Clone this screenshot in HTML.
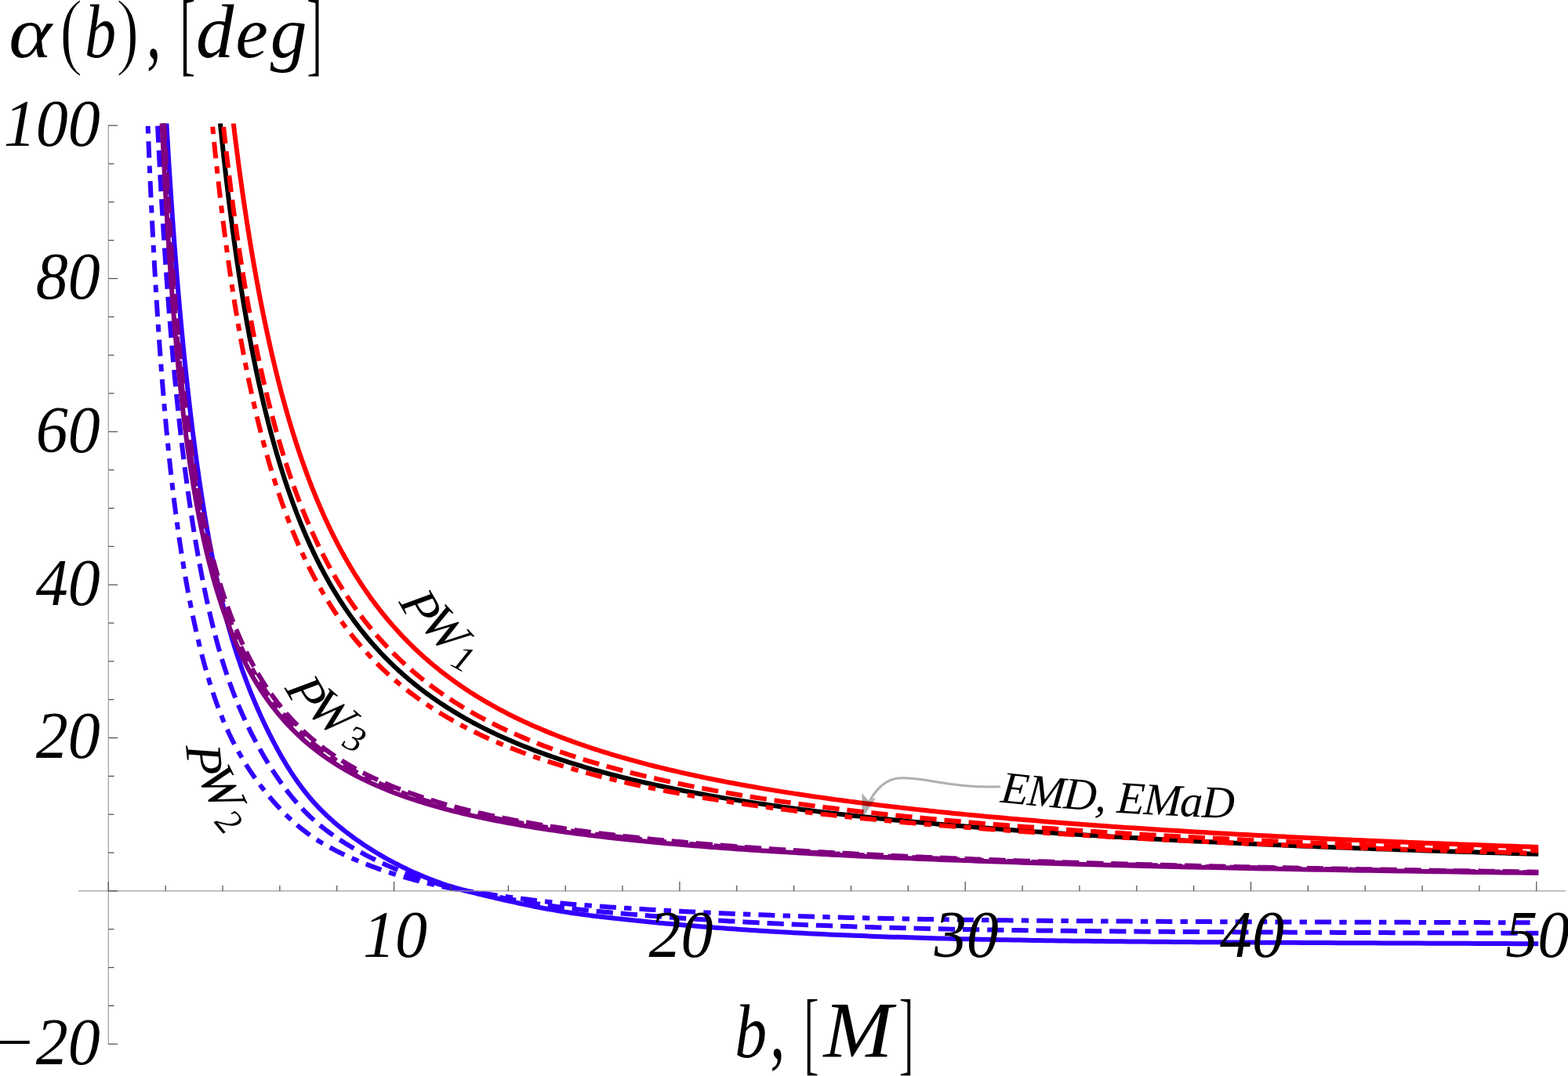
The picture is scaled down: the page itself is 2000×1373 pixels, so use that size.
<!DOCTYPE html>
<html lang="en"><head><meta charset="utf-8"><title>Deflection angle plot</title>
<style>
html,body{margin:0;padding:0;background:#fff;}
body{width:2000px;height:1373px;overflow:hidden;}
svg{display:block;}
text{font-family:"Liberation Serif","DejaVu Serif",serif;font-style:italic;fill:#000;}
.tk{font-size:82px;}
.c{fill:none;stroke-width:6.0px;stroke-linecap:square;stroke-linejoin:round;}
</style></head><body>
<svg xmlns="http://www.w3.org/2000/svg" width="2000" height="1373" viewBox="0 0 2000 1373">
<rect width="2000" height="1373" fill="#fff"/>
<defs><clipPath id="clip"><rect x="100" y="157.6" width="1862.3" height="1180"/></clipPath></defs>

<g clip-path="url(#clip)">
<path class="c" stroke="#000000" d="M281.19 160.10 L282.00 168.01 L282.82 175.84 L283.64 183.60 L284.47 191.29 L285.30 198.91 L286.13 206.45 L286.97 213.93 L287.82 221.34 L288.67 228.68 L289.52 235.95 L290.38 243.15 L291.25 250.29 L292.12 257.37 L292.99 264.37 L293.87 271.32 L294.76 278.20 L295.65 285.01 L296.54 291.77 L297.44 298.46 L298.34 305.10 L299.25 311.67 L300.17 318.18 L301.09 324.63 L302.02 331.03 L302.95 337.37 L303.88 343.65 L304.82 349.87 L305.77 356.04 L306.72 362.15 L307.68 368.20 L308.64 374.20 L309.61 380.15 L310.59 386.05 L311.56 391.89 L312.55 397.68 L313.54 403.42 L314.54 409.11 L315.54 414.74 L316.55 420.33 L317.56 425.86 L318.58 431.35 L319.60 436.79 L320.63 442.18 L321.67 447.52 L322.71 452.82 L323.76 458.07 L324.82 463.27 L325.88 468.43 L326.94 473.54 L328.01 478.61 L329.09 483.63 L330.18 488.61 L331.27 493.54 L332.37 498.44 L333.47 503.29 L334.58 508.09 L335.69 512.86 L336.82 517.58 L337.95 522.26 L339.08 526.91 L340.22 531.51 L341.37 536.07 L342.52 540.59 L343.69 545.08 L344.85 549.52 L346.03 553.93 L347.21 558.30 L348.40 562.63 L349.59 566.92 L350.79 571.18 L352.00 575.40 L353.21 579.59 L354.44 583.74 L355.66 587.85 L356.90 591.93 L358.14 595.97 L359.39 599.98 L360.65 603.96 L361.91 607.90 L363.18 611.81 L364.46 615.69 L365.75 619.53 L367.04 623.34 L368.34 627.12 L369.65 630.87 L370.97 634.58 L372.29 638.27 L373.62 641.92 L374.96 645.54 L376.30 649.13 L377.65 652.70 L379.02 656.23 L380.38 659.73 L381.76 663.21 L383.14 666.65 L384.54 670.07 L385.94 673.46 L387.34 676.82 L388.76 680.15 L390.18 683.46 L391.62 686.73 L393.06 689.98 L394.50 693.21 L395.96 696.41 L397.43 699.58 L398.90 702.72 L400.38 705.84 L401.87 708.94 L403.37 712.00 L404.88 715.05 L406.39 718.07 L407.91 721.06 L409.45 724.03 L410.99 726.98 L412.54 729.90 L414.10 732.80 L415.67 735.67 L417.24 738.52 L418.83 741.35 L420.42 744.16 L422.03 746.94 L423.64 749.70 L425.26 752.44 L426.89 755.16 L428.53 757.85 L430.18 760.52 L431.84 763.18 L433.51 765.81 L435.19 768.42 L436.88 771.00 L438.58 773.57 L440.28 776.12 L442.00 778.65 L443.73 781.16 L445.46 783.64 L447.21 786.11 L448.97 788.56 L450.73 790.99 L452.51 793.40 L454.29 795.79 L456.09 798.16 L457.90 800.51 L459.71 802.85 L461.54 805.17 L463.38 807.47 L465.23 809.75 L467.09 812.01 L468.95 814.25 L470.83 816.48 L472.72 818.69 L474.63 820.88 L476.54 823.06 L478.46 825.22 L480.39 827.36 L482.34 829.49 L484.30 831.60 L486.26 833.69 L488.24 835.77 L490.23 837.83 L492.23 839.87 L494.24 841.90 L496.27 843.92 L498.30 845.92 L500.35 847.90 L502.41 849.87 L504.48 851.82 L506.56 853.76 L508.65 855.68 L510.76 857.59 L512.87 859.48 L515.00 861.36 L517.15 863.23 L519.30 865.08 L521.47 866.92 L523.64 868.74 L525.83 870.55 L528.04 872.34 L530.25 874.13 L532.48 875.90 L534.72 877.65 L536.98 879.39 L539.24 881.12 L541.52 882.84 L543.81 884.54 L546.12 886.23 L548.44 887.91 L550.77 889.58 L553.11 891.23 L555.47 892.87 L557.84 894.50 L560.23 896.12 L562.63 897.72 L565.04 899.31 L567.47 900.89 L569.91 902.46 L572.36 904.02 L574.83 905.57 L577.31 907.10 L579.80 908.63 L582.31 910.14 L584.84 911.64 L587.38 913.13 L589.93 914.61 L592.50 916.08 L595.08 917.53 L597.68 918.98 L600.29 920.42 L602.91 921.84 L605.56 923.26 L608.21 924.66 L610.88 926.06 L613.57 927.44 L616.27 928.82 L618.99 930.18 L621.72 931.54 L624.47 932.88 L627.23 934.22 L630.01 935.54 L632.81 936.86 L635.62 938.17 L638.45 939.47 L641.29 940.75 L644.15 942.03 L647.03 943.30 L649.92 944.56 L652.83 945.81 L655.75 947.06 L658.69 948.29 L661.65 949.52 L664.63 950.73 L667.62 951.94 L670.63 953.14 L673.66 954.33 L676.70 955.51 L679.76 956.69 L682.84 957.85 L685.93 959.01 L689.05 960.16 L692.18 961.30 L695.33 962.43 L698.49 963.56 L701.68 964.67 L704.88 965.78 L708.10 966.89 L711.34 967.98 L714.60 969.07 L717.88 970.14 L721.17 971.21 L724.48 972.28 L727.82 973.33 L731.17 974.38 L734.54 975.42 L737.93 976.46 L741.34 977.49 L744.77 978.51 L748.21 979.52 L751.68 980.52 L755.17 981.52 L758.67 982.52 L762.20 983.50 L765.75 984.48 L769.32 985.45 L772.90 986.42 L776.51 987.37 L780.14 988.33 L783.79 989.27 L787.46 990.21 L791.15 991.14 L794.86 992.07 L798.59 992.99 L802.35 993.90 L806.12 994.81 L809.92 995.71 L813.74 996.60 L817.57 997.49 L821.44 998.38 L825.32 999.25 L829.23 1000.12 L833.15 1000.99 L837.10 1001.85 L841.08 1002.70 L845.07 1003.55 L849.09 1004.39 L853.13 1005.23 L857.19 1006.06 L861.28 1006.88 L865.39 1007.70 L869.53 1008.51 L873.68 1009.32 L877.86 1010.13 L882.07 1010.92 L886.30 1011.72 L890.55 1012.50 L894.82 1013.29 L899.13 1014.06 L903.45 1014.83 L907.80 1015.60 L912.18 1016.36 L916.57 1017.12 L921.00 1017.87 L925.45 1018.61 L929.92 1019.36 L934.42 1020.09 L938.95 1020.82 L943.50 1021.55 L948.08 1022.27 L952.68 1022.99 L957.31 1023.70 L961.97 1024.41 L966.65 1025.11 L971.36 1025.81 L976.10 1026.50 L980.86 1027.19 L985.65 1027.88 L990.47 1028.56 L995.31 1029.23 L1000.18 1029.91 L1005.08 1030.57 L1010.01 1031.24 L1014.97 1031.89 L1019.95 1032.55 L1024.96 1033.20 L1030.00 1033.84 L1035.07 1034.48 L1040.17 1035.12 L1045.30 1035.76 L1050.45 1036.38 L1055.64 1037.01 L1060.85 1037.63 L1066.10 1038.25 L1071.37 1038.86 L1076.68 1039.47 L1082.01 1040.07 L1087.38 1040.68 L1092.77 1041.27 L1098.20 1041.87 L1103.66 1042.46 L1109.15 1043.04 L1114.66 1043.62 L1120.22 1044.20 L1125.80 1044.78 L1131.41 1045.35 L1137.06 1045.92 L1142.73 1046.48 L1148.45 1047.04 L1154.19 1047.60 L1159.96 1048.15 L1165.77 1048.70 L1171.61 1049.25 L1177.49 1049.79 L1183.39 1050.33 L1189.34 1050.86 L1195.31 1051.40 L1201.32 1051.92 L1207.36 1052.45 L1213.44 1052.97 L1219.55 1053.49 L1225.70 1054.01 L1231.88 1054.52 L1238.10 1055.03 L1244.35 1055.54 L1250.64 1056.04 L1256.96 1056.54 L1263.32 1057.04 L1269.72 1057.53 L1276.15 1058.02 L1282.62 1058.51 L1289.12 1058.99 L1295.67 1059.47 L1302.25 1059.95 L1308.86 1060.43 L1315.52 1060.90 L1322.21 1061.37 L1328.94 1061.83 L1335.71 1062.30 L1342.52 1062.76 L1349.36 1063.22 L1356.25 1063.67 L1363.17 1064.12 L1370.14 1064.57 L1377.14 1065.02 L1384.18 1065.46 L1391.26 1065.90 L1398.39 1066.34 L1405.55 1066.78 L1412.76 1067.21 L1420.00 1067.64 L1427.29 1068.07 L1434.62 1068.49 L1441.98 1068.91 L1449.40 1069.33 L1456.85 1069.75 L1464.35 1070.17 L1471.88 1070.58 L1479.47 1070.99 L1487.09 1071.39 L1494.76 1071.80 L1502.47 1072.20 L1510.23 1072.60 L1518.02 1073.00 L1525.87 1073.39 L1533.76 1073.78 L1541.69 1074.17 L1549.67 1074.56 L1557.69 1074.95 L1565.76 1075.33 L1573.88 1075.71 L1582.04 1076.09 L1590.25 1076.46 L1598.50 1076.84 L1606.80 1077.21 L1615.15 1077.58 L1623.54 1077.94 L1631.99 1078.31 L1640.48 1078.67 L1649.02 1079.03 L1657.61 1079.39 L1666.25 1079.74 L1674.93 1080.10 L1683.67 1080.45 L1692.45 1080.80 L1701.29 1081.15 L1710.17 1081.49 L1719.11 1081.83 L1728.10 1082.18 L1737.14 1082.51 L1746.22 1082.85 L1755.37 1083.19 L1764.56 1083.52 L1773.80 1083.85 L1783.10 1084.18 L1792.45 1084.51 L1801.86 1084.83 L1811.31 1085.15 L1820.83 1085.47 L1830.39 1085.79 L1840.01 1086.11 L1849.68 1086.43 L1859.41 1086.74 L1869.20 1087.05 L1879.04 1087.36 L1888.93 1087.67 L1898.89 1087.97 L1908.90 1088.28 L1918.96 1088.58 L1929.08 1088.88 L1939.26 1089.18 L1949.50 1089.48 L1959.80 1089.77"/>
<path class="c" stroke="#ff0000" d="M298.07 160.10 L298.93 167.21 L299.81 174.27 L300.69 181.28 L301.57 188.23 L302.46 195.13 L303.35 201.97 L304.24 208.76 L305.15 215.50 L306.05 222.19 L306.97 228.82 L307.88 235.41 L308.80 241.94 L309.73 248.42 L310.66 254.85 L311.60 261.24 L312.54 267.57 L313.49 273.85 L314.44 280.09 L315.40 286.28 L316.36 292.42 L317.33 298.51 L318.30 304.56 L319.28 310.56 L320.26 316.51 L321.25 322.42 L322.25 328.28 L323.25 334.10 L324.25 339.87 L325.26 345.60 L326.28 351.28 L327.30 356.92 L328.33 362.51 L329.36 368.07 L330.40 373.58 L331.44 379.05 L332.49 384.47 L333.55 389.86 L334.61 395.20 L335.67 400.50 L336.75 405.76 L337.83 410.98 L338.91 416.16 L340.00 421.30 L341.10 426.40 L342.20 431.47 L343.31 436.49 L344.42 441.47 L345.54 446.42 L346.67 451.33 L347.80 456.20 L348.94 461.03 L350.08 465.83 L351.23 470.59 L352.39 475.31 L353.56 480.00 L354.73 484.65 L355.90 489.26 L357.08 493.84 L358.27 498.39 L359.47 502.90 L360.67 507.37 L361.88 511.82 L363.10 516.22 L364.32 520.60 L365.55 524.94 L366.78 529.24 L368.02 533.52 L369.27 537.76 L370.53 541.97 L371.79 546.14 L373.06 550.29 L374.33 554.40 L375.62 558.48 L376.91 562.53 L378.20 566.55 L379.51 570.54 L380.82 574.50 L382.14 578.43 L383.46 582.33 L384.79 586.20 L386.13 590.04 L387.48 593.85 L388.83 597.63 L390.20 601.38 L391.56 605.10 L392.94 608.80 L394.33 612.47 L395.72 616.10 L397.12 619.72 L398.52 623.30 L399.94 626.86 L401.36 630.39 L402.79 633.89 L404.23 637.37 L405.67 640.82 L407.12 644.24 L408.59 647.64 L410.05 651.01 L411.53 654.35 L413.02 657.68 L414.51 660.97 L416.01 664.24 L417.52 667.49 L419.04 670.71 L420.56 673.91 L422.10 677.08 L423.64 680.23 L425.19 683.35 L426.75 686.45 L428.32 689.53 L429.89 692.59 L431.48 695.62 L433.07 698.63 L434.67 701.61 L436.29 704.58 L437.90 707.52 L439.53 710.44 L441.17 713.33 L442.82 716.21 L444.47 719.06 L446.14 721.89 L447.81 724.70 L449.49 727.49 L451.18 730.26 L452.88 733.01 L454.59 735.73 L456.31 738.44 L458.04 741.12 L459.78 743.79 L461.52 746.44 L463.28 749.06 L465.05 751.67 L466.82 754.25 L468.61 756.82 L470.40 759.37 L472.21 761.90 L474.02 764.40 L475.85 766.90 L477.68 769.37 L479.53 771.82 L481.38 774.26 L483.25 776.67 L485.12 779.07 L487.01 781.45 L488.90 783.81 L490.81 786.16 L492.72 788.49 L494.65 790.80 L496.59 793.09 L498.53 795.37 L500.49 797.62 L502.46 799.87 L504.44 802.09 L506.43 804.30 L508.43 806.49 L510.44 808.67 L512.46 810.83 L514.50 812.97 L516.54 815.10 L518.60 817.21 L520.67 819.31 L522.74 821.39 L524.83 823.45 L526.93 825.50 L529.05 827.54 L531.17 829.55 L533.30 831.56 L535.45 833.55 L537.61 835.52 L539.78 837.48 L541.96 839.43 L544.16 841.36 L546.36 843.28 L548.58 845.18 L550.81 847.07 L553.05 848.94 L555.31 850.80 L557.57 852.65 L559.85 854.48 L562.14 856.30 L564.45 858.11 L566.76 859.90 L569.09 861.68 L571.43 863.44 L573.79 865.20 L576.15 866.94 L578.53 868.67 L580.93 870.38 L583.33 872.08 L585.75 873.77 L588.18 875.45 L590.63 877.11 L593.09 878.77 L595.56 880.41 L598.04 882.04 L600.54 883.65 L603.05 885.26 L605.58 886.85 L608.12 888.43 L610.67 890.00 L613.24 891.56 L615.82 893.10 L618.42 894.64 L621.03 896.16 L623.65 897.68 L626.29 899.18 L628.94 900.67 L631.61 902.15 L634.29 903.62 L636.98 905.07 L639.69 906.52 L642.42 907.96 L645.16 909.39 L647.91 910.80 L650.68 912.21 L653.47 913.60 L656.27 914.99 L659.08 916.36 L661.91 917.73 L664.76 919.08 L667.62 920.43 L670.50 921.77 L673.39 923.09 L676.30 924.41 L679.22 925.72 L682.16 927.02 L685.12 928.31 L688.09 929.59 L691.08 930.86 L694.08 932.12 L697.10 933.37 L700.14 934.61 L703.19 935.85 L706.26 937.08 L709.35 938.29 L712.45 939.50 L715.57 940.71 L718.71 941.90 L721.87 943.08 L725.04 944.26 L728.23 945.43 L731.43 946.59 L734.66 947.74 L737.90 948.88 L741.16 950.02 L744.43 951.15 L747.73 952.27 L751.04 953.38 L754.37 954.49 L757.72 955.59 L761.08 956.68 L764.47 957.76 L767.87 958.84 L771.29 959.91 L774.74 960.97 L778.19 962.02 L781.67 963.07 L785.17 964.11 L788.68 965.14 L792.22 966.17 L795.77 967.19 L799.35 968.20 L802.94 969.21 L806.55 970.21 L810.18 971.20 L813.84 972.19 L817.51 973.17 L821.20 974.14 L824.91 975.11 L828.64 976.07 L832.39 977.03 L836.17 977.98 L839.96 978.92 L843.77 979.85 L847.61 980.78 L851.46 981.71 L855.34 982.63 L859.23 983.54 L863.15 984.45 L867.09 985.35 L871.05 986.24 L875.04 987.13 L879.04 988.02 L883.07 988.90 L887.11 989.77 L891.18 990.63 L895.28 991.50 L899.39 992.35 L903.53 993.20 L907.69 994.05 L911.87 994.89 L916.07 995.73 L920.30 996.56 L924.55 997.38 L928.82 998.20 L933.12 999.01 L937.44 999.82 L941.78 1000.63 L946.15 1001.43 L950.54 1002.22 L954.95 1003.01 L959.39 1003.80 L963.85 1004.58 L968.34 1005.35 L972.85 1006.12 L977.39 1006.89 L981.95 1007.65 L986.53 1008.41 L991.14 1009.16 L995.78 1009.91 L1000.44 1010.65 L1005.13 1011.39 L1009.84 1012.12 L1014.57 1012.85 L1019.34 1013.58 L1024.12 1014.30 L1028.94 1015.02 L1033.78 1015.73 L1038.65 1016.44 L1043.54 1017.14 L1048.46 1017.84 L1053.41 1018.54 L1058.38 1019.23 L1063.38 1019.92 L1068.41 1020.60 L1073.46 1021.28 L1078.55 1021.96 L1083.66 1022.63 L1088.79 1023.30 L1093.96 1023.96 L1099.15 1024.62 L1104.38 1025.28 L1109.63 1025.93 L1114.91 1026.58 L1120.21 1027.22 L1125.55 1027.87 L1130.92 1028.50 L1136.31 1029.14 L1141.74 1029.77 L1147.19 1030.39 L1152.67 1031.02 L1158.19 1031.64 L1163.73 1032.25 L1169.30 1032.87 L1174.91 1033.48 L1180.54 1034.08 L1186.20 1034.68 L1191.90 1035.28 L1197.63 1035.88 L1203.38 1036.47 L1209.17 1037.06 L1214.99 1037.64 L1220.84 1038.22 L1226.73 1038.80 L1232.64 1039.38 L1238.59 1039.95 L1244.57 1040.52 L1250.58 1041.08 L1256.63 1041.65 L1262.71 1042.21 L1268.82 1042.76 L1274.96 1043.31 L1281.14 1043.86 L1287.35 1044.41 L1293.60 1044.95 L1299.88 1045.49 L1306.19 1046.03 L1312.54 1046.56 L1318.92 1047.09 L1325.34 1047.62 L1331.79 1048.14 L1338.27 1048.66 L1344.80 1049.18 L1351.35 1049.70 L1357.95 1050.21 L1364.57 1050.72 L1371.24 1051.23 L1377.94 1051.73 L1384.68 1052.23 L1391.45 1052.73 L1398.26 1053.22 L1405.11 1053.71 L1412.00 1054.20 L1418.92 1054.69 L1425.88 1055.17 L1432.88 1055.65 L1439.91 1056.13 L1446.99 1056.60 L1454.10 1057.07 L1461.25 1057.54 L1468.44 1058.01 L1475.67 1058.47 L1482.94 1058.93 L1490.25 1059.39 L1497.59 1059.85 L1504.98 1060.30 L1512.41 1060.75 L1519.88 1061.20 L1527.39 1061.64 L1534.94 1062.08 L1542.53 1062.52 L1550.16 1062.96 L1557.83 1063.40 L1565.55 1063.83 L1573.30 1064.26 L1581.10 1064.68 L1588.95 1065.11 L1596.83 1065.53 L1604.76 1065.95 L1612.73 1066.37 L1620.74 1066.78 L1628.80 1067.19 L1636.90 1067.60 L1645.04 1068.01 L1653.23 1068.41 L1661.47 1068.81 L1669.74 1069.21 L1678.07 1069.61 L1686.44 1070.01 L1694.85 1070.40 L1703.31 1070.79 L1711.82 1071.18 L1720.37 1071.56 L1728.97 1071.94 L1737.61 1072.33 L1746.30 1072.70 L1755.04 1073.08 L1763.83 1073.45 L1772.67 1073.83 L1781.55 1074.20 L1790.48 1074.56 L1799.46 1074.93 L1808.49 1075.29 L1817.57 1075.65 L1826.69 1076.01 L1835.87 1076.37 L1845.09 1076.72 L1854.37 1077.08 L1863.70 1077.43 L1873.08 1077.77 L1882.50 1078.12 L1891.98 1078.46 L1901.51 1078.81 L1911.10 1079.14 L1920.73 1079.48 L1930.42 1079.82 L1940.16 1080.15 L1949.95 1080.48 L1959.80 1080.81"/>
<path class="c" stroke="#ff0000" stroke-dasharray="15.3 15.9" stroke-dashoffset="-4.9" d="M284.97 160.10 L285.79 167.71 L286.62 175.25 L287.46 182.72 L288.30 190.12 L289.14 197.47 L289.99 204.74 L290.84 211.96 L291.70 219.11 L292.56 226.19 L293.43 233.22 L294.31 240.18 L295.18 247.08 L296.07 253.93 L296.95 260.71 L297.85 267.43 L298.74 274.10 L299.65 280.71 L300.55 287.26 L301.47 293.75 L302.39 300.19 L303.31 306.57 L304.24 312.89 L305.17 319.17 L306.11 325.38 L307.05 331.55 L308.00 337.66 L308.96 343.72 L309.92 349.72 L310.88 355.68 L311.85 361.58 L312.83 367.43 L313.81 373.24 L314.80 378.99 L315.79 384.69 L316.79 390.35 L317.80 395.96 L318.81 401.52 L319.82 407.03 L320.84 412.49 L321.87 417.91 L322.90 423.29 L323.94 428.61 L324.99 433.90 L326.04 439.13 L327.09 444.33 L328.16 449.48 L329.22 454.58 L330.30 459.65 L331.38 464.67 L332.47 469.65 L333.56 474.58 L334.66 479.48 L335.76 484.34 L336.87 489.15 L337.99 493.92 L339.11 498.66 L340.24 503.35 L341.38 508.01 L342.52 512.62 L343.67 517.20 L344.83 521.74 L345.99 526.25 L347.16 530.71 L348.33 535.14 L349.51 539.53 L350.70 543.89 L351.90 548.21 L353.10 552.49 L354.31 556.74 L355.52 560.95 L356.75 565.13 L357.97 569.28 L359.21 573.39 L360.45 577.47 L361.70 581.51 L362.96 585.52 L364.22 589.50 L365.50 593.45 L366.77 597.36 L368.06 601.24 L369.35 605.09 L370.65 608.91 L371.96 612.70 L373.27 616.46 L374.60 620.18 L375.93 623.88 L377.26 627.55 L378.61 631.18 L379.96 634.79 L381.32 638.37 L382.69 641.92 L384.06 645.44 L385.44 648.93 L386.84 652.40 L388.23 655.84 L389.64 659.24 L391.05 662.63 L392.48 665.98 L393.91 669.31 L395.34 672.61 L396.79 675.89 L398.25 679.14 L399.71 682.36 L401.18 685.56 L402.66 688.73 L404.15 691.88 L405.64 695.00 L407.15 698.10 L408.66 701.18 L410.18 704.22 L411.71 707.25 L413.25 710.25 L414.79 713.23 L416.35 716.18 L417.91 719.11 L419.49 722.02 L421.07 724.91 L422.66 727.77 L424.26 730.61 L425.87 733.43 L427.49 736.22 L429.11 739.00 L430.75 741.75 L432.40 744.48 L434.05 747.19 L435.72 749.88 L437.39 752.55 L439.07 755.20 L440.76 757.82 L442.47 760.43 L444.18 763.02 L445.90 765.58 L447.63 768.13 L449.37 770.66 L451.12 773.16 L452.88 775.65 L454.65 778.12 L456.43 780.57 L458.22 783.00 L460.02 785.42 L461.83 787.81 L463.65 790.19 L465.48 792.54 L467.32 794.88 L469.17 797.21 L471.03 799.51 L472.91 801.80 L474.79 804.07 L476.68 806.32 L478.59 808.55 L480.50 810.77 L482.43 812.97 L484.36 815.16 L486.31 817.33 L488.27 819.48 L490.24 821.61 L492.22 823.73 L494.21 825.84 L496.21 827.92 L498.23 830.00 L500.25 832.05 L502.29 834.09 L504.34 836.12 L506.39 838.13 L508.47 840.13 L510.55 842.11 L512.64 844.07 L514.75 846.02 L516.87 847.96 L519.00 849.88 L521.14 851.79 L523.29 853.68 L525.46 855.56 L527.64 857.43 L529.83 859.28 L532.03 861.12 L534.25 862.95 L536.47 864.76 L538.72 866.55 L540.97 868.34 L543.23 870.11 L545.51 871.87 L547.80 873.62 L550.11 875.35 L552.42 877.07 L554.75 878.78 L557.10 880.47 L559.45 882.15 L561.82 883.82 L564.21 885.48 L566.60 887.13 L569.01 888.76 L571.44 890.38 L573.87 891.99 L576.32 893.59 L578.79 895.18 L581.27 896.76 L583.76 898.32 L586.27 899.87 L588.79 901.42 L591.32 902.95 L593.87 904.47 L596.43 905.97 L599.01 907.47 L601.60 908.96 L604.21 910.43 L606.83 911.90 L609.47 913.36 L612.12 914.80 L614.79 916.23 L617.47 917.66 L620.16 919.07 L622.87 920.48 L625.60 921.87 L628.34 923.25 L631.10 924.63 L633.87 925.99 L636.66 927.35 L639.46 928.69 L642.28 930.03 L645.12 931.35 L647.97 932.67 L650.84 933.98 L653.72 935.27 L656.62 936.56 L659.54 937.84 L662.47 939.11 L665.42 940.38 L668.39 941.63 L671.37 942.87 L674.37 944.11 L677.39 945.33 L680.42 946.55 L683.47 947.76 L686.54 948.96 L689.62 950.16 L692.72 951.34 L695.84 952.52 L698.98 953.68 L702.13 954.84 L705.31 956.00 L708.50 957.14 L711.71 958.28 L714.93 959.40 L718.18 960.52 L721.44 961.64 L724.72 962.74 L728.02 963.84 L731.34 964.93 L734.67 966.01 L738.03 967.08 L741.40 968.15 L744.80 969.21 L748.21 970.26 L751.64 971.31 L755.09 972.35 L758.56 973.38 L762.05 974.40 L765.56 975.42 L769.09 976.43 L772.64 977.43 L776.21 978.43 L779.80 979.42 L783.41 980.40 L787.04 981.38 L790.69 982.34 L794.36 983.31 L798.05 984.26 L801.76 985.21 L805.50 986.16 L809.25 987.09 L813.03 988.02 L816.82 988.95 L820.64 989.87 L824.48 990.78 L828.34 991.68 L832.22 992.58 L836.13 993.48 L840.05 994.36 L844.00 995.25 L847.97 996.12 L851.96 996.99 L855.98 997.85 L860.02 998.71 L864.08 999.57 L868.16 1000.41 L872.27 1001.25 L876.40 1002.09 L880.55 1002.92 L884.73 1003.74 L888.93 1004.56 L893.15 1005.38 L897.40 1006.18 L901.67 1006.99 L905.97 1007.78 L910.28 1008.58 L914.63 1009.36 L919.00 1010.14 L923.39 1010.92 L927.81 1011.69 L932.25 1012.46 L936.72 1013.22 L941.21 1013.98 L945.73 1014.73 L950.27 1015.47 L954.84 1016.21 L959.43 1016.95 L964.05 1017.68 L968.70 1018.41 L973.37 1019.13 L978.07 1019.85 L982.79 1020.56 L987.55 1021.27 L992.32 1021.97 L997.13 1022.67 L1001.96 1023.37 L1006.82 1024.06 L1011.71 1024.74 L1016.62 1025.42 L1021.56 1026.10 L1026.53 1026.77 L1031.53 1027.44 L1036.56 1028.10 L1041.61 1028.76 L1046.69 1029.41 L1051.80 1030.06 L1056.94 1030.71 L1062.11 1031.35 L1067.31 1031.99 L1072.54 1032.63 L1077.79 1033.25 L1083.08 1033.88 L1088.40 1034.50 L1093.74 1035.12 L1099.12 1035.73 L1104.52 1036.34 L1109.96 1036.95 L1115.43 1037.55 L1120.93 1038.15 L1126.45 1038.74 L1132.01 1039.33 L1137.61 1039.92 L1143.23 1040.50 L1148.88 1041.08 L1154.57 1041.66 L1160.29 1042.23 L1166.04 1042.80 L1171.82 1043.37 L1177.64 1043.93 L1183.48 1044.48 L1189.36 1045.04 L1195.28 1045.59 L1201.22 1046.14 L1207.21 1046.68 L1213.22 1047.22 L1219.27 1047.76 L1225.35 1048.29 L1231.47 1048.82 L1237.62 1049.35 L1243.80 1049.87 L1250.02 1050.39 L1256.28 1050.91 L1262.57 1051.42 L1268.89 1051.93 L1275.26 1052.44 L1281.65 1052.94 L1288.09 1053.44 L1294.55 1053.94 L1301.06 1054.44 L1307.60 1054.93 L1314.18 1055.42 L1320.80 1055.90 L1327.45 1056.38 L1334.14 1056.86 L1340.87 1057.34 L1347.64 1057.81 L1354.44 1058.28 L1361.28 1058.75 L1368.17 1059.21 L1375.09 1059.68 L1382.04 1060.14 L1389.04 1060.59 L1396.08 1061.04 L1403.16 1061.49 L1410.27 1061.94 L1417.43 1062.39 L1424.63 1062.83 L1431.87 1063.27 L1439.14 1063.71 L1446.46 1064.14 L1453.82 1064.57 L1461.23 1065.00 L1468.67 1065.43 L1476.15 1065.85 L1483.68 1066.27 L1491.25 1066.69 L1498.86 1067.10 L1506.52 1067.52 L1514.22 1067.93 L1521.96 1068.34 L1529.74 1068.74 L1537.57 1069.14 L1545.45 1069.55 L1553.36 1069.94 L1561.33 1070.34 L1569.33 1070.73 L1577.38 1071.12 L1585.48 1071.51 L1593.62 1071.90 L1601.81 1072.28 L1610.05 1072.66 L1618.33 1073.04 L1626.66 1073.42 L1635.03 1073.80 L1643.45 1074.17 L1651.92 1074.54 L1660.44 1074.91 L1669.00 1075.27 L1677.61 1075.63 L1686.27 1076.00 L1694.98 1076.36 L1703.74 1076.71 L1712.55 1077.07 L1721.41 1077.42 L1730.32 1077.77 L1739.27 1078.12 L1748.28 1078.46 L1757.34 1078.81 L1766.45 1079.15 L1775.61 1079.49 L1784.82 1079.83 L1794.09 1080.17 L1803.40 1080.50 L1812.77 1080.83 L1822.19 1081.16 L1831.67 1081.49 L1841.20 1081.82 L1850.78 1082.14 L1860.41 1082.46 L1870.10 1082.78 L1879.85 1083.10 L1889.65 1083.42 L1899.50 1083.73 L1909.41 1084.04 L1919.38 1084.36 L1929.40 1084.66 L1939.47 1084.97 L1949.61 1085.28 L1959.80 1085.58"/>
<path class="c" stroke="#ff0000" stroke-dasharray="3.4 16.1 15.0 16.2" stroke-dashoffset="-4.6" d="M271.02 160.10 L271.79 167.99 L272.57 175.80 L273.36 183.55 L274.15 191.22 L274.94 198.82 L275.74 206.35 L276.55 213.82 L277.36 221.21 L278.17 228.54 L278.99 235.81 L279.81 243.00 L280.64 250.14 L281.47 257.20 L282.31 264.21 L283.15 271.15 L284.00 278.02 L284.85 284.84 L285.71 291.59 L286.57 298.29 L287.44 304.92 L288.31 311.49 L289.19 318.01 L290.07 324.47 L290.96 330.86 L291.85 337.21 L292.75 343.49 L293.66 349.72 L294.56 355.89 L295.48 362.01 L296.40 368.08 L297.32 374.09 L298.25 380.04 L299.19 385.95 L300.13 391.80 L301.08 397.60 L302.03 403.35 L302.99 409.05 L303.95 414.69 L304.92 420.29 L305.90 425.84 L306.88 431.34 L307.86 436.79 L308.85 442.20 L309.85 447.55 L310.86 452.86 L311.86 458.13 L312.88 463.35 L313.90 468.52 L314.93 473.64 L315.96 478.73 L317.00 483.77 L318.05 488.76 L319.10 493.71 L320.16 498.62 L321.22 503.48 L322.29 508.31 L323.37 513.09 L324.45 517.83 L325.54 522.53 L326.63 527.19 L327.74 531.81 L328.84 536.39 L329.96 540.93 L331.08 545.43 L332.21 549.89 L333.34 554.32 L334.48 558.70 L335.63 563.05 L336.79 567.37 L337.95 571.64 L339.12 575.88 L340.29 580.08 L341.47 584.25 L342.66 588.38 L343.86 592.48 L345.06 596.54 L346.27 600.57 L347.49 604.56 L348.71 608.52 L349.94 612.45 L351.18 616.34 L352.42 620.20 L353.68 624.03 L354.94 627.83 L356.20 631.59 L357.48 635.32 L358.76 639.03 L360.05 642.70 L361.35 646.34 L362.65 649.95 L363.97 653.52 L365.29 657.07 L366.61 660.59 L367.95 664.08 L369.29 667.55 L370.64 670.98 L372.00 674.38 L373.37 677.76 L374.75 681.11 L376.13 684.43 L377.52 687.72 L378.92 690.99 L380.33 694.23 L381.74 697.44 L383.17 700.63 L384.60 703.79 L386.04 706.92 L387.49 710.03 L388.95 713.11 L390.42 716.17 L391.89 719.20 L393.37 722.21 L394.87 725.20 L396.37 728.16 L397.88 731.09 L399.40 734.00 L400.92 736.89 L402.46 739.75 L404.01 742.60 L405.56 745.41 L407.12 748.21 L408.70 750.98 L410.28 753.73 L411.87 756.46 L413.47 759.17 L415.08 761.85 L416.70 764.51 L418.33 767.16 L419.97 769.78 L421.61 772.38 L423.27 774.95 L424.94 777.51 L426.62 780.05 L428.30 782.57 L430.00 785.06 L431.71 787.54 L433.42 790.00 L435.15 792.44 L436.89 794.86 L438.63 797.26 L440.39 799.64 L442.16 802.00 L443.94 804.34 L445.72 806.67 L447.52 808.97 L449.33 811.26 L451.15 813.53 L452.98 815.78 L454.82 818.02 L456.67 820.23 L458.54 822.43 L460.41 824.62 L462.29 826.78 L464.19 828.93 L466.10 831.06 L468.01 833.18 L469.94 835.27 L471.88 837.36 L473.84 839.42 L475.80 841.47 L477.77 843.51 L479.76 845.52 L481.76 847.53 L483.77 849.51 L485.79 851.49 L487.82 853.44 L489.86 855.38 L491.92 857.31 L493.99 859.22 L496.07 861.12 L498.16 863.00 L500.27 864.87 L502.39 866.72 L504.52 868.56 L506.66 870.39 L508.82 872.20 L510.98 873.99 L513.16 875.78 L515.36 877.55 L517.56 879.31 L519.78 881.05 L522.01 882.78 L524.26 884.50 L526.52 886.20 L528.79 887.89 L531.07 889.57 L533.37 891.23 L535.68 892.89 L538.01 894.53 L540.34 896.15 L542.70 897.77 L545.06 899.37 L547.44 900.97 L549.84 902.55 L552.24 904.11 L554.67 905.67 L557.10 907.21 L559.55 908.75 L562.02 910.27 L564.49 911.78 L566.99 913.28 L569.50 914.76 L572.02 916.24 L574.56 917.70 L577.11 919.16 L579.68 920.60 L582.26 922.04 L584.86 923.46 L587.47 924.87 L590.10 926.27 L592.74 927.66 L595.40 929.04 L598.07 930.41 L600.76 931.77 L603.47 933.13 L606.19 934.47 L608.93 935.80 L611.68 937.12 L614.45 938.43 L617.23 939.73 L620.04 941.02 L622.86 942.31 L625.69 943.58 L628.54 944.84 L631.41 946.10 L634.29 947.34 L637.20 948.58 L640.12 949.81 L643.05 951.03 L646.00 952.24 L648.97 953.44 L651.96 954.63 L654.97 955.81 L657.99 956.99 L661.03 958.16 L664.09 959.31 L667.16 960.46 L670.26 961.61 L673.37 962.74 L676.50 963.86 L679.65 964.98 L682.82 966.09 L686.00 967.19 L689.21 968.29 L692.43 969.37 L695.67 970.45 L698.93 971.52 L702.21 972.58 L705.51 973.64 L708.83 974.68 L712.17 975.72 L715.53 976.76 L718.90 977.78 L722.30 978.80 L725.72 979.81 L729.15 980.82 L732.61 981.81 L736.09 982.80 L739.58 983.78 L743.10 984.76 L746.64 985.73 L750.20 986.69 L753.78 987.65 L757.38 988.59 L761.00 989.54 L764.65 990.47 L768.31 991.40 L772.00 992.32 L775.70 993.24 L779.43 994.15 L783.18 995.05 L786.96 995.95 L790.75 996.84 L794.57 997.72 L798.41 998.60 L802.27 999.47 L806.15 1000.34 L810.06 1001.20 L813.99 1002.05 L817.94 1002.90 L821.92 1003.74 L825.92 1004.58 L829.94 1005.41 L833.99 1006.23 L838.06 1007.05 L842.15 1007.87 L846.27 1008.67 L850.41 1009.48 L854.58 1010.27 L858.77 1011.06 L862.98 1011.85 L867.22 1012.63 L871.49 1013.41 L875.78 1014.18 L880.09 1014.94 L884.43 1015.70 L888.80 1016.46 L893.19 1017.20 L897.61 1017.95 L902.05 1018.69 L906.52 1019.42 L911.01 1020.15 L915.53 1020.87 L920.08 1021.59 L924.65 1022.31 L929.25 1023.02 L933.88 1023.72 L938.53 1024.42 L943.22 1025.12 L947.93 1025.81 L952.66 1026.49 L957.43 1027.18 L962.22 1027.85 L967.04 1028.52 L971.89 1029.19 L976.76 1029.86 L981.67 1030.51 L986.60 1031.17 L991.57 1031.82 L996.56 1032.46 L1001.58 1033.11 L1006.63 1033.74 L1011.71 1034.38 L1016.82 1035.00 L1021.96 1035.63 L1027.13 1036.25 L1032.33 1036.87 L1037.56 1037.48 L1042.82 1038.09 L1048.11 1038.69 L1053.44 1039.29 L1058.79 1039.89 L1064.18 1040.48 L1069.59 1041.07 L1075.04 1041.65 L1080.52 1042.23 L1086.03 1042.81 L1091.58 1043.38 L1097.16 1043.95 L1102.77 1044.51 L1108.41 1045.08 L1114.08 1045.63 L1119.79 1046.19 L1125.53 1046.74 L1131.31 1047.29 L1137.12 1047.83 L1142.96 1048.37 L1148.84 1048.91 L1154.75 1049.44 L1160.70 1049.97 L1166.68 1050.49 L1172.70 1051.02 L1178.75 1051.54 L1184.84 1052.05 L1190.96 1052.56 L1197.12 1053.07 L1203.31 1053.58 L1209.54 1054.08 L1215.81 1054.58 L1222.11 1055.08 L1228.46 1055.57 L1234.83 1056.06 L1241.25 1056.55 L1247.70 1057.03 L1254.19 1057.51 L1260.72 1057.99 L1267.29 1058.46 L1273.89 1058.93 L1280.54 1059.40 L1287.22 1059.87 L1293.94 1060.33 L1300.70 1060.79 L1307.50 1061.25 L1314.34 1061.70 L1321.22 1062.15 L1328.14 1062.60 L1335.10 1063.04 L1342.11 1063.48 L1349.15 1063.92 L1356.23 1064.36 L1363.36 1064.79 L1370.53 1065.22 L1377.73 1065.65 L1384.99 1066.08 L1392.28 1066.50 L1399.62 1066.92 L1407.00 1067.34 L1414.42 1067.75 L1421.88 1068.16 L1429.39 1068.57 L1436.95 1068.98 L1444.54 1069.38 L1452.19 1069.79 L1459.87 1070.19 L1467.60 1070.58 L1475.38 1070.98 L1483.20 1071.37 L1491.07 1071.76 L1498.99 1072.15 L1506.95 1072.53 L1514.95 1072.91 L1523.01 1073.29 L1531.11 1073.67 L1539.26 1074.04 L1547.46 1074.42 L1555.70 1074.79 L1563.99 1075.16 L1572.33 1075.52 L1580.72 1075.88 L1589.16 1076.25 L1597.65 1076.60 L1606.19 1076.96 L1614.78 1077.32 L1623.41 1077.67 L1632.10 1078.02 L1640.84 1078.37 L1649.63 1078.71 L1658.47 1079.06 L1667.37 1079.40 L1676.31 1079.74 L1685.31 1080.08 L1694.36 1080.41 L1703.47 1080.74 L1712.62 1081.07 L1721.83 1081.40 L1731.10 1081.73 L1740.42 1082.06 L1749.79 1082.38 L1759.22 1082.70 L1768.70 1083.02 L1778.24 1083.34 L1787.83 1083.65 L1797.48 1083.97 L1807.19 1084.28 L1816.95 1084.59 L1826.78 1084.90 L1836.65 1085.20 L1846.59 1085.50 L1856.58 1085.81 L1866.64 1086.11 L1876.75 1086.41 L1886.92 1086.70 L1897.15 1087.00 L1907.44 1087.29 L1917.79 1087.58 L1928.20 1087.87 L1938.67 1088.16 L1949.21 1088.45 L1959.80 1088.73"/>
<path class="c" stroke="#3300ff" d="M212.56 160.10 L213.09 169.35 L213.63 178.52 L214.16 187.61 L214.71 196.62 L215.25 205.56 L215.80 214.41 L216.36 223.20 L216.92 231.90 L217.48 240.53 L218.05 249.08 L218.62 257.57 L219.19 265.97 L219.77 274.31 L220.35 282.57 L220.94 290.76 L221.53 298.88 L222.12 306.93 L222.72 314.91 L223.33 322.82 L223.94 330.67 L224.55 338.44 L225.17 346.15 L225.79 353.80 L226.41 361.38 L227.04 368.89 L227.68 376.35 L228.32 383.74 L228.96 391.08 L229.61 398.35 L230.26 405.57 L230.92 412.73 L231.58 419.83 L232.25 426.88 L232.92 433.88 L233.60 440.82 L234.28 447.70 L234.97 454.54 L235.66 461.32 L236.35 468.05 L237.05 474.74 L237.76 481.37 L238.47 487.96 L239.19 494.49 L239.91 500.98 L240.64 507.42 L241.37 513.82 L242.11 520.17 L242.85 526.48 L243.60 532.74 L244.35 538.96 L245.11 545.13 L245.87 551.27 L246.64 557.36 L247.42 563.40 L248.20 569.41 L248.98 575.37 L249.77 581.28 L250.57 587.16 L251.37 592.99 L252.18 598.77 L253.00 604.51 L253.82 610.21 L254.64 615.86 L255.48 621.46 L256.31 627.02 L257.16 632.54 L258.01 638.01 L258.86 643.43 L259.73 648.81 L260.59 654.15 L261.47 659.44 L262.35 664.68 L263.24 669.88 L264.13 675.03 L265.03 680.13 L265.94 685.19 L266.85 690.21 L267.77 695.18 L268.70 700.10 L269.63 704.98 L270.57 709.81 L271.51 714.60 L272.47 719.34 L273.43 724.04 L274.39 728.69 L275.37 733.30 L276.35 737.86 L277.33 742.37 L278.33 746.85 L279.33 751.28 L280.34 755.66 L281.35 760.00 L282.38 764.30 L283.41 768.55 L284.45 772.76 L285.49 776.92 L286.54 781.04 L287.60 785.12 L288.67 789.16 L289.75 793.15 L290.83 797.11 L291.92 801.02 L293.02 804.88 L294.13 808.72 L295.24 812.51 L296.36 816.27 L297.49 819.99 L298.63 823.67 L299.78 827.33 L300.93 830.95 L302.10 834.54 L303.27 838.10 L304.45 841.63 L305.64 845.14 L306.83 848.61 L308.04 852.06 L309.25 855.49 L310.48 858.89 L311.71 862.26 L312.95 865.61 L314.20 868.94 L315.45 872.25 L316.72 875.53 L318.00 878.79 L319.28 882.04 L320.58 885.26 L321.88 888.46 L323.19 891.64 L324.52 894.81 L325.85 897.95 L327.19 901.08 L328.54 904.19 L329.90 907.28 L331.27 910.36 L332.65 913.42 L334.04 916.46 L335.44 919.49 L336.85 922.49 L338.27 925.49 L339.70 928.46 L341.14 931.42 L342.59 934.37 L344.05 937.30 L345.52 940.21 L347.01 943.11 L348.50 945.99 L350.00 948.86 L351.52 951.70 L353.04 954.53 L354.58 957.34 L356.12 960.14 L357.68 962.91 L359.25 965.66 L360.83 968.38 L362.42 971.09 L364.03 973.77 L365.64 976.43 L367.27 979.06 L368.90 981.67 L370.55 984.25 L372.21 986.81 L373.89 989.34 L375.57 991.85 L377.27 994.32 L378.98 996.77 L380.70 999.20 L382.43 1001.59 L384.18 1003.96 L385.94 1006.29 L387.71 1008.60 L389.49 1010.88 L391.29 1013.13 L393.10 1015.35 L394.92 1017.55 L396.76 1019.71 L398.61 1021.85 L400.47 1023.95 L402.34 1026.03 L404.23 1028.07 L406.13 1030.09 L408.05 1032.08 L409.98 1034.04 L411.92 1035.98 L413.88 1037.89 L415.85 1039.78 L417.83 1041.64 L419.83 1043.49 L421.85 1045.31 L423.87 1047.12 L425.92 1048.91 L427.97 1050.68 L430.05 1052.44 L432.13 1054.18 L434.23 1055.90 L436.35 1057.61 L438.48 1059.31 L440.63 1061.00 L442.79 1062.67 L444.97 1064.32 L447.16 1065.97 L449.37 1067.60 L451.60 1069.22 L453.84 1070.83 L456.09 1072.43 L458.37 1074.02 L460.65 1075.59 L462.96 1077.16 L465.28 1078.71 L467.62 1080.25 L469.98 1081.78 L472.35 1083.29 L474.74 1084.80 L477.14 1086.29 L479.57 1087.77 L482.01 1089.24 L484.47 1090.70 L486.94 1092.14 L489.44 1093.58 L491.95 1095.00 L494.48 1096.41 L497.02 1097.81 L499.59 1099.20 L502.17 1100.57 L504.78 1101.93 L507.40 1103.28 L510.04 1104.62 L512.70 1105.94 L515.37 1107.26 L518.07 1108.56 L520.79 1109.84 L523.52 1111.12 L526.28 1112.38 L529.05 1113.62 L531.85 1114.86 L534.66 1116.08 L537.50 1117.29 L540.35 1118.49 L543.23 1119.68 L546.12 1120.85 L549.04 1122.00 L551.98 1123.14 L554.93 1124.25 L557.91 1125.34 L560.92 1126.42 L563.94 1127.47 L566.98 1128.50 L570.05 1129.50 L573.14 1130.49 L576.25 1131.45 L579.38 1132.40 L582.53 1133.32 L585.71 1134.23 L588.91 1135.12 L592.13 1136.00 L595.38 1136.87 L598.65 1137.73 L601.94 1138.58 L605.26 1139.42 L608.60 1140.26 L611.96 1141.09 L615.35 1141.92 L618.76 1142.74 L622.20 1143.56 L625.66 1144.38 L629.14 1145.19 L632.65 1146.01 L636.19 1146.82 L639.75 1147.64 L643.34 1148.45 L646.95 1149.26 L650.59 1150.07 L654.25 1150.88 L657.94 1151.68 L661.66 1152.48 L665.40 1153.28 L669.17 1154.08 L672.97 1154.87 L676.79 1155.66 L680.64 1156.44 L684.52 1157.21 L688.43 1157.98 L692.36 1158.73 L696.32 1159.47 L700.31 1160.20 L704.33 1160.92 L708.38 1161.62 L712.46 1162.31 L716.57 1162.98 L720.70 1163.64 L724.87 1164.28 L729.06 1164.92 L733.29 1165.53 L737.54 1166.14 L741.83 1166.73 L746.14 1167.31 L750.49 1167.88 L754.87 1168.44 L759.28 1168.99 L763.72 1169.53 L768.19 1170.06 L772.70 1170.58 L777.24 1171.09 L781.81 1171.60 L786.41 1172.11 L791.04 1172.60 L795.71 1173.10 L800.41 1173.60 L805.15 1174.09 L809.92 1174.58 L814.72 1175.06 L819.56 1175.55 L824.43 1176.03 L829.34 1176.51 L834.28 1176.98 L839.26 1177.46 L844.27 1177.93 L849.32 1178.39 L854.41 1178.86 L859.53 1179.32 L864.69 1179.77 L869.88 1180.23 L875.12 1180.67 L880.39 1181.12 L885.69 1181.56 L891.04 1182.00 L896.42 1182.43 L901.84 1182.86 L907.31 1183.29 L912.81 1183.71 L918.34 1184.12 L923.92 1184.54 L929.54 1184.94 L935.20 1185.35 L940.90 1185.75 L946.64 1186.14 L952.42 1186.53 L958.24 1186.91 L964.11 1187.29 L970.02 1187.67 L975.96 1188.04 L981.95 1188.40 L987.99 1188.76 L994.07 1189.12 L1000.19 1189.47 L1006.35 1189.81 L1012.56 1190.15 L1018.81 1190.49 L1025.11 1190.82 L1031.45 1191.14 L1037.84 1191.46 L1044.27 1191.78 L1050.75 1192.09 L1057.28 1192.39 L1063.85 1192.69 L1070.47 1192.98 L1077.14 1193.27 L1083.85 1193.56 L1090.61 1193.83 L1097.43 1194.11 L1104.29 1194.37 L1111.19 1194.64 L1118.15 1194.89 L1125.16 1195.15 L1132.22 1195.39 L1139.33 1195.64 L1146.49 1195.87 L1153.70 1196.10 L1160.96 1196.33 L1168.27 1196.55 L1175.64 1196.77 L1183.06 1196.98 L1190.53 1197.19 L1198.06 1197.39 L1205.64 1197.59 L1213.27 1197.78 L1220.96 1197.97 L1228.70 1198.16 L1236.50 1198.34 L1244.35 1198.51 L1252.26 1198.68 L1260.23 1198.85 L1268.26 1199.01 L1276.34 1199.17 L1284.48 1199.32 L1292.67 1199.47 L1300.93 1199.62 L1309.25 1199.76 L1317.62 1199.90 L1326.05 1200.03 L1334.55 1200.16 L1343.11 1200.28 L1351.72 1200.41 L1360.40 1200.53 L1369.14 1200.64 L1377.94 1200.75 L1386.81 1200.86 L1395.74 1200.97 L1404.73 1201.07 L1413.79 1201.17 L1422.91 1201.27 L1432.10 1201.36 L1441.35 1201.45 L1450.67 1201.54 L1460.06 1201.62 L1469.51 1201.71 L1479.03 1201.79 L1488.62 1201.87 L1498.28 1201.94 L1508.01 1202.02 L1517.80 1202.09 L1527.67 1202.16 L1537.61 1202.22 L1547.61 1202.29 L1557.69 1202.35 L1567.84 1202.42 L1578.07 1202.48 L1588.37 1202.54 L1598.74 1202.60 L1609.18 1202.65 L1619.70 1202.71 L1630.30 1202.76 L1640.97 1202.82 L1651.72 1202.87 L1662.54 1202.92 L1673.44 1202.97 L1684.42 1203.02 L1695.48 1203.08 L1706.62 1203.13 L1717.83 1203.18 L1729.13 1203.23 L1740.51 1203.28 L1751.97 1203.33 L1763.51 1203.38 L1775.13 1203.43 L1786.84 1203.48 L1798.63 1203.53 L1810.50 1203.58 L1822.46 1203.63 L1834.51 1203.68 L1846.64 1203.74 L1858.86 1203.79 L1871.16 1203.85 L1883.56 1203.91 L1896.04 1203.96 L1908.61 1204.02 L1921.27 1204.09 L1934.02 1204.15 L1946.87 1204.21 L1959.80 1204.28"/>
<path class="c" stroke="#3300ff" stroke-dasharray="15.3 15.9" stroke-dashoffset="-3.6" d="M201.03 160.10 L201.50 169.67 L201.98 179.15 L202.46 188.54 L202.94 197.84 L203.43 207.07 L203.92 216.21 L204.41 225.26 L204.91 234.23 L205.41 243.12 L205.92 251.93 L206.43 260.66 L206.94 269.31 L207.46 277.89 L207.98 286.38 L208.50 294.80 L209.03 303.14 L209.56 311.40 L210.10 319.59 L210.64 327.71 L211.19 335.75 L211.73 343.71 L212.29 351.61 L212.84 359.43 L213.41 367.18 L213.97 374.87 L214.54 382.48 L215.12 390.02 L215.69 397.50 L216.28 404.90 L216.86 412.24 L217.46 419.51 L218.05 426.72 L218.65 433.86 L219.26 440.93 L219.87 447.94 L220.48 454.89 L221.10 461.77 L221.72 468.60 L222.35 475.35 L222.98 482.05 L223.62 488.69 L224.26 495.26 L224.91 501.78 L225.56 508.24 L226.22 514.64 L226.88 520.99 L227.55 527.28 L228.22 533.51 L228.90 539.70 L229.58 545.83 L230.27 551.91 L230.96 557.93 L231.66 563.91 L232.36 569.84 L233.07 575.72 L233.79 581.56 L234.50 587.34 L235.23 593.08 L235.96 598.78 L236.69 604.43 L237.44 610.04 L238.18 615.60 L238.93 621.12 L239.69 626.60 L240.46 632.04 L241.22 637.43 L242.00 642.79 L242.78 648.10 L243.57 653.38 L244.36 658.62 L245.16 663.82 L245.96 668.98 L246.77 674.10 L247.59 679.19 L248.41 684.23 L249.24 689.24 L250.08 694.21 L250.92 699.14 L251.77 704.03 L252.62 708.89 L253.48 713.70 L254.35 718.47 L255.23 723.21 L256.11 727.90 L256.99 732.55 L257.89 737.17 L258.79 741.74 L259.69 746.27 L260.61 750.77 L261.53 755.22 L262.46 759.63 L263.39 764.00 L264.34 768.33 L265.28 772.62 L266.24 776.87 L267.20 781.08 L268.17 785.25 L269.15 789.38 L270.14 793.47 L271.13 797.52 L272.13 801.52 L273.14 805.49 L274.15 809.42 L275.18 813.31 L276.21 817.16 L277.25 820.97 L278.29 824.73 L279.35 828.46 L280.41 832.15 L281.48 835.81 L282.56 839.42 L283.64 842.99 L284.74 846.53 L285.84 850.02 L286.95 853.48 L288.07 856.90 L289.20 860.29 L290.34 863.63 L291.48 866.94 L292.63 870.21 L293.80 873.45 L294.97 876.65 L296.15 879.82 L297.34 882.96 L298.53 886.07 L299.74 889.15 L300.96 892.20 L302.18 895.22 L303.42 898.22 L304.66 901.19 L305.91 904.13 L307.17 907.06 L308.45 909.95 L309.73 912.83 L311.02 915.68 L312.32 918.52 L313.63 921.33 L314.95 924.12 L316.28 926.89 L317.62 929.65 L318.97 932.38 L320.33 935.10 L321.70 937.80 L323.08 940.48 L324.47 943.15 L325.88 945.80 L327.29 948.43 L328.71 951.05 L330.15 953.65 L331.59 956.24 L333.05 958.81 L334.51 961.37 L335.99 963.91 L337.48 966.44 L338.98 968.95 L340.49 971.45 L342.01 973.94 L343.55 976.41 L345.09 978.87 L346.65 981.31 L348.22 983.74 L349.80 986.16 L351.39 988.56 L353.00 990.94 L354.61 993.31 L356.24 995.66 L357.88 997.99 L359.54 1000.30 L361.20 1002.60 L362.88 1004.87 L364.57 1007.12 L366.28 1009.35 L368.00 1011.56 L369.72 1013.75 L371.47 1015.91 L373.22 1018.05 L374.99 1020.17 L376.77 1022.27 L378.57 1024.33 L380.38 1026.38 L382.20 1028.40 L384.04 1030.39 L385.89 1032.36 L387.76 1034.31 L389.63 1036.23 L391.53 1038.12 L393.43 1039.99 L395.35 1041.83 L397.29 1043.65 L399.24 1045.44 L401.21 1047.20 L403.19 1048.94 L405.18 1050.65 L407.19 1052.34 L409.22 1054.00 L411.26 1055.63 L413.31 1057.25 L415.38 1058.85 L417.47 1060.42 L419.57 1061.98 L421.69 1063.52 L423.82 1065.04 L425.97 1066.55 L428.14 1068.04 L430.32 1069.52 L432.52 1070.98 L434.74 1072.43 L436.97 1073.87 L439.22 1075.29 L441.48 1076.71 L443.77 1078.11 L446.07 1079.50 L448.39 1080.88 L450.72 1082.25 L453.07 1083.61 L455.44 1084.96 L457.83 1086.30 L460.24 1087.63 L462.66 1088.95 L465.11 1090.25 L467.57 1091.55 L470.05 1092.84 L472.54 1094.12 L475.06 1095.38 L477.60 1096.64 L480.15 1097.88 L482.73 1099.12 L485.32 1100.34 L487.93 1101.55 L490.57 1102.76 L493.22 1103.95 L495.89 1105.13 L498.59 1106.31 L501.30 1107.47 L504.03 1108.62 L506.79 1109.76 L509.56 1110.88 L512.36 1112.00 L515.17 1113.11 L518.01 1114.20 L520.87 1115.29 L523.75 1116.36 L526.66 1117.42 L529.58 1118.47 L532.53 1119.50 L535.50 1120.53 L538.49 1121.55 L541.50 1122.55 L544.54 1123.55 L547.60 1124.53 L550.68 1125.49 L553.78 1126.44 L556.91 1127.36 L560.06 1128.27 L563.24 1129.16 L566.44 1130.03 L569.66 1130.88 L572.91 1131.72 L576.19 1132.53 L579.48 1133.32 L582.81 1134.10 L586.15 1134.86 L589.53 1135.61 L592.92 1136.35 L596.35 1137.08 L599.80 1137.80 L603.27 1138.52 L606.77 1139.22 L610.30 1139.93 L613.86 1140.62 L617.44 1141.32 L621.05 1142.01 L624.68 1142.70 L628.34 1143.39 L632.03 1144.07 L635.75 1144.76 L639.50 1145.44 L643.27 1146.13 L647.08 1146.81 L650.91 1147.49 L654.77 1148.17 L658.66 1148.85 L662.58 1149.53 L666.52 1150.20 L670.50 1150.87 L674.51 1151.53 L678.55 1152.19 L682.62 1152.85 L686.71 1153.49 L690.84 1154.13 L695.01 1154.76 L699.20 1155.38 L703.42 1155.99 L707.68 1156.58 L711.96 1157.16 L716.29 1157.73 L720.64 1158.28 L725.02 1158.83 L729.44 1159.36 L733.89 1159.88 L738.38 1160.39 L742.90 1160.88 L747.45 1161.37 L752.04 1161.85 L756.66 1162.31 L761.32 1162.77 L766.01 1163.22 L770.73 1163.66 L775.50 1164.10 L780.30 1164.53 L785.13 1164.95 L790.00 1165.37 L794.91 1165.79 L799.85 1166.21 L804.84 1166.62 L809.86 1167.04 L814.91 1167.45 L820.01 1167.85 L825.14 1168.26 L830.31 1168.66 L835.52 1169.06 L840.78 1169.46 L846.07 1169.85 L851.40 1170.25 L856.77 1170.64 L862.18 1171.02 L867.63 1171.40 L873.12 1171.78 L878.65 1172.16 L884.23 1172.53 L889.85 1172.90 L895.51 1173.27 L901.21 1173.63 L906.95 1173.99 L912.74 1174.34 L918.57 1174.69 L924.45 1175.04 L930.37 1175.38 L936.33 1175.72 L942.34 1176.06 L948.40 1176.39 L954.50 1176.71 L960.65 1177.04 L966.84 1177.35 L973.08 1177.67 L979.36 1177.98 L985.70 1178.28 L992.08 1178.58 L998.51 1178.88 L1004.99 1179.17 L1011.51 1179.46 L1018.09 1179.74 L1024.71 1180.02 L1031.39 1180.29 L1038.12 1180.56 L1044.89 1180.83 L1051.72 1181.09 L1058.60 1181.34 L1065.53 1181.59 L1072.51 1181.84 L1079.55 1182.08 L1086.63 1182.32 L1093.78 1182.55 L1100.97 1182.78 L1108.22 1183.00 L1115.52 1183.22 L1122.88 1183.43 L1130.30 1183.64 L1137.77 1183.85 L1145.29 1184.05 L1152.88 1184.24 L1160.52 1184.43 L1168.22 1184.62 L1175.97 1184.80 L1183.79 1184.98 L1191.66 1185.16 L1199.59 1185.33 L1207.58 1185.49 L1215.64 1185.65 L1223.75 1185.81 L1231.92 1185.97 L1240.16 1186.12 L1248.46 1186.26 L1256.82 1186.40 L1265.24 1186.54 L1273.73 1186.67 L1282.28 1186.80 L1290.89 1186.93 L1299.57 1187.05 L1308.32 1187.17 L1317.13 1187.29 L1326.01 1187.40 L1334.95 1187.51 L1343.96 1187.62 L1353.04 1187.72 L1362.19 1187.82 L1371.40 1187.92 L1380.69 1188.01 L1390.05 1188.10 L1399.47 1188.19 L1408.97 1188.27 L1418.54 1188.36 L1428.18 1188.44 L1437.89 1188.51 L1447.68 1188.59 L1457.54 1188.66 L1467.48 1188.73 L1477.49 1188.80 L1487.57 1188.87 L1497.73 1188.93 L1507.97 1188.99 L1518.28 1189.05 L1528.68 1189.11 L1539.15 1189.17 L1549.70 1189.22 L1560.32 1189.28 L1571.03 1189.33 L1581.82 1189.38 L1592.69 1189.43 L1603.64 1189.48 L1614.68 1189.53 L1625.80 1189.57 L1637.00 1189.62 L1648.29 1189.66 L1659.66 1189.71 L1671.11 1189.75 L1682.66 1189.79 L1694.29 1189.84 L1706.00 1189.88 L1717.81 1189.92 L1729.70 1189.96 L1741.69 1190.00 L1753.76 1190.05 L1765.93 1190.09 L1778.19 1190.13 L1790.54 1190.17 L1802.98 1190.22 L1815.51 1190.26 L1828.14 1190.31 L1840.87 1190.35 L1853.69 1190.40 L1866.61 1190.44 L1879.62 1190.49 L1892.74 1190.54 L1905.95 1190.59 L1919.26 1190.64 L1932.67 1190.69 L1946.19 1190.75 L1959.80 1190.80"/>
<path class="c" stroke="#3300ff" stroke-dasharray="3.4 16.1 15.0 16.2" stroke-dashoffset="-3.8" d="M188.58 160.10 L188.98 170.13 L189.39 180.06 L189.80 189.89 L190.21 199.63 L190.63 209.27 L191.05 218.81 L191.47 228.27 L191.90 237.63 L192.33 246.89 L192.76 256.07 L193.20 265.16 L193.64 274.16 L194.08 283.07 L194.53 291.89 L194.98 300.63 L195.44 309.28 L195.90 317.85 L196.36 326.34 L196.83 334.74 L197.29 343.06 L197.77 351.30 L198.25 359.46 L198.73 367.54 L199.21 375.54 L199.70 383.46 L200.19 391.31 L200.69 399.08 L201.19 406.77 L201.70 414.39 L202.21 421.94 L202.72 429.41 L203.24 436.81 L203.76 444.14 L204.28 451.39 L204.81 458.58 L205.35 465.70 L205.88 472.75 L206.43 479.73 L206.97 486.64 L207.52 493.48 L208.08 500.26 L208.64 506.97 L209.21 513.62 L209.77 520.21 L210.35 526.73 L210.93 533.18 L211.51 539.58 L212.10 545.91 L212.69 552.18 L213.29 558.39 L213.89 564.54 L214.50 570.63 L215.11 576.66 L215.72 582.63 L216.34 588.55 L216.97 594.41 L217.60 600.21 L218.24 605.95 L218.88 611.64 L219.53 617.27 L220.18 622.85 L220.84 628.38 L221.50 633.85 L222.17 639.27 L222.84 644.63 L223.52 649.95 L224.20 655.21 L224.89 660.42 L225.59 665.58 L226.29 670.70 L227.00 675.76 L227.71 680.78 L228.43 685.75 L229.15 690.68 L229.88 695.57 L230.61 700.40 L231.35 705.20 L232.10 709.96 L232.85 714.67 L233.61 719.34 L234.38 723.98 L235.15 728.57 L235.93 733.13 L236.71 737.64 L237.50 742.12 L238.30 746.56 L239.10 750.97 L239.91 755.34 L240.72 759.68 L241.55 763.98 L242.38 768.24 L243.21 772.47 L244.05 776.67 L244.90 780.84 L245.76 784.97 L246.62 789.08 L247.49 793.14 L248.37 797.18 L249.25 801.19 L250.14 805.16 L251.04 809.09 L251.94 813.00 L252.86 816.87 L253.77 820.71 L254.70 824.51 L255.64 828.28 L256.58 832.02 L257.53 835.72 L258.48 839.38 L259.45 843.02 L260.42 846.62 L261.40 850.18 L262.39 853.71 L263.39 857.20 L264.39 860.66 L265.40 864.09 L266.42 867.48 L267.45 870.84 L268.49 874.16 L269.53 877.45 L270.59 880.70 L271.65 883.92 L272.72 887.11 L273.80 890.26 L274.89 893.38 L275.98 896.46 L277.09 899.51 L278.20 902.53 L279.32 905.51 L280.46 908.46 L281.60 911.38 L282.75 914.26 L283.91 917.11 L285.08 919.93 L286.25 922.71 L287.44 925.46 L288.64 928.18 L289.85 930.87 L291.06 933.53 L292.29 936.15 L293.53 938.75 L294.77 941.31 L296.03 943.85 L297.29 946.36 L298.57 948.84 L299.86 951.30 L301.15 953.74 L302.46 956.15 L303.78 958.54 L305.11 960.91 L306.45 963.26 L307.80 965.58 L309.16 967.89 L310.53 970.18 L311.91 972.45 L313.30 974.70 L314.71 976.94 L316.12 979.15 L317.55 981.36 L318.99 983.54 L320.44 985.71 L321.90 987.87 L323.38 990.01 L324.86 992.14 L326.36 994.25 L327.87 996.35 L329.39 998.44 L330.93 1000.51 L332.47 1002.57 L334.03 1004.62 L335.60 1006.66 L337.19 1008.68 L338.78 1010.69 L340.39 1012.69 L342.01 1014.68 L343.65 1016.65 L345.30 1018.62 L346.96 1020.57 L348.63 1022.51 L350.32 1024.44 L352.02 1026.35 L353.74 1028.25 L355.47 1030.14 L357.21 1032.01 L358.97 1033.86 L360.74 1035.70 L362.53 1037.52 L364.33 1039.32 L366.14 1041.11 L367.97 1042.87 L369.81 1044.62 L371.67 1046.35 L373.55 1048.06 L375.43 1049.75 L377.34 1051.41 L379.26 1053.06 L381.19 1054.69 L383.14 1056.29 L385.11 1057.88 L387.09 1059.44 L389.08 1060.98 L391.10 1062.50 L393.13 1063.99 L395.17 1065.47 L397.23 1066.92 L399.31 1068.35 L401.41 1069.76 L403.52 1071.15 L405.65 1072.51 L407.79 1073.85 L409.96 1075.17 L412.14 1076.48 L414.34 1077.76 L416.55 1079.03 L418.79 1080.28 L421.04 1081.51 L423.31 1082.73 L425.60 1083.94 L427.90 1085.13 L430.23 1086.31 L432.57 1087.48 L434.93 1088.64 L437.31 1089.79 L439.71 1090.93 L442.13 1092.06 L444.57 1093.17 L447.03 1094.28 L449.51 1095.38 L452.01 1096.47 L454.53 1097.55 L457.06 1098.63 L459.62 1099.69 L462.20 1100.75 L464.80 1101.79 L467.42 1102.83 L470.06 1103.86 L472.73 1104.88 L475.41 1105.89 L478.12 1106.89 L480.85 1107.89 L483.60 1108.87 L486.37 1109.85 L489.16 1110.81 L491.98 1111.77 L494.82 1112.72 L497.68 1113.66 L500.56 1114.59 L503.47 1115.51 L506.40 1116.42 L509.36 1117.33 L512.34 1118.22 L515.34 1119.10 L518.37 1119.98 L521.42 1120.84 L524.49 1121.70 L527.59 1122.54 L530.72 1123.38 L533.87 1124.20 L537.04 1125.02 L540.24 1125.83 L543.47 1126.63 L546.72 1127.41 L550.00 1128.19 L553.31 1128.94 L556.64 1129.69 L560.00 1130.41 L563.38 1131.13 L566.79 1131.82 L570.23 1132.50 L573.70 1133.16 L577.20 1133.81 L580.72 1134.44 L584.27 1135.05 L587.85 1135.66 L591.46 1136.25 L595.10 1136.84 L598.76 1137.42 L602.46 1137.99 L606.18 1138.55 L609.94 1139.12 L613.73 1139.67 L617.54 1140.23 L621.39 1140.78 L625.27 1141.33 L629.18 1141.88 L633.12 1142.43 L637.09 1142.98 L641.09 1143.52 L645.13 1144.07 L649.20 1144.62 L653.30 1145.16 L657.43 1145.70 L661.60 1146.24 L665.80 1146.78 L670.04 1147.32 L674.30 1147.85 L678.61 1148.38 L682.94 1148.90 L687.32 1149.42 L691.72 1149.93 L696.17 1150.43 L700.64 1150.92 L705.16 1151.40 L709.71 1151.87 L714.29 1152.33 L718.92 1152.77 L723.58 1153.21 L728.28 1153.64 L733.01 1154.06 L737.79 1154.46 L742.60 1154.86 L747.45 1155.25 L752.34 1155.63 L757.27 1156.00 L762.24 1156.37 L767.25 1156.73 L772.30 1157.08 L777.38 1157.43 L782.52 1157.77 L787.69 1158.11 L792.90 1158.44 L798.15 1158.78 L803.45 1159.11 L808.79 1159.44 L814.17 1159.76 L819.60 1160.09 L825.07 1160.42 L830.58 1160.74 L836.14 1161.06 L841.74 1161.37 L847.39 1161.69 L853.08 1162.00 L858.81 1162.31 L864.60 1162.62 L870.43 1162.92 L876.31 1163.23 L882.23 1163.52 L888.20 1163.82 L894.22 1164.11 L900.29 1164.40 L906.41 1164.69 L912.57 1164.97 L918.79 1165.25 L925.05 1165.53 L931.37 1165.80 L937.73 1166.08 L944.15 1166.34 L950.62 1166.61 L957.14 1166.86 L963.71 1167.12 L970.34 1167.37 L977.02 1167.62 L983.75 1167.87 L990.54 1168.11 L997.38 1168.35 L1004.28 1168.58 L1011.23 1168.81 L1018.23 1169.04 L1025.30 1169.26 L1032.42 1169.48 L1039.60 1169.69 L1046.83 1169.90 L1054.12 1170.11 L1061.48 1170.31 L1068.89 1170.51 L1076.36 1170.70 L1083.89 1170.89 L1091.48 1171.08 L1099.13 1171.26 L1106.84 1171.44 L1114.62 1171.62 L1122.45 1171.79 L1130.35 1171.96 L1138.32 1172.12 L1146.34 1172.28 L1154.44 1172.44 L1162.59 1172.59 L1170.81 1172.74 L1179.10 1172.88 L1187.46 1173.02 L1195.88 1173.16 L1204.37 1173.30 L1212.93 1173.43 L1221.55 1173.55 L1230.25 1173.68 L1239.01 1173.80 L1247.85 1173.91 L1256.76 1174.03 L1265.73 1174.14 L1274.79 1174.24 L1283.91 1174.35 L1293.10 1174.45 L1302.37 1174.54 L1311.72 1174.64 L1321.14 1174.73 L1330.63 1174.82 L1340.20 1174.91 L1349.85 1174.99 L1359.58 1175.07 L1369.38 1175.15 L1379.26 1175.22 L1389.23 1175.29 L1399.27 1175.37 L1409.39 1175.43 L1419.59 1175.50 L1429.88 1175.56 L1440.25 1175.62 L1450.70 1175.68 L1461.23 1175.74 L1471.85 1175.80 L1482.56 1175.85 L1493.35 1175.90 L1504.22 1175.95 L1515.19 1176.00 L1526.24 1176.05 L1537.38 1176.09 L1548.61 1176.14 L1559.93 1176.18 L1571.35 1176.22 L1582.85 1176.26 L1594.45 1176.30 L1606.13 1176.34 L1617.92 1176.38 L1629.80 1176.42 L1641.77 1176.45 L1653.84 1176.49 L1666.00 1176.52 L1678.27 1176.56 L1690.63 1176.59 L1703.09 1176.63 L1715.65 1176.66 L1728.31 1176.69 L1741.07 1176.73 L1753.94 1176.76 L1766.91 1176.79 L1779.98 1176.83 L1793.16 1176.86 L1806.45 1176.90 L1819.84 1176.93 L1833.33 1176.97 L1846.94 1177.00 L1860.66 1177.04 L1874.48 1177.08 L1888.42 1177.12 L1902.47 1177.16 L1916.63 1177.20 L1930.90 1177.24 L1945.29 1177.28 L1959.80 1177.33"/>
<path class="c" stroke="#800080" d="M206.74 160.10 L207.24 170.69 L207.75 181.14 L208.26 191.46 L208.77 201.64 L209.29 211.70 L209.81 221.63 L210.33 231.43 L210.86 241.11 L211.39 250.67 L211.93 260.10 L212.47 269.42 L213.01 278.61 L213.56 287.69 L214.11 296.65 L214.67 305.50 L215.23 314.23 L215.79 322.86 L216.36 331.37 L216.93 339.77 L217.51 348.07 L218.09 356.26 L218.68 364.34 L219.27 372.32 L219.86 380.20 L220.46 387.98 L221.06 395.66 L221.67 403.24 L222.28 410.72 L222.90 418.11 L223.52 425.40 L224.14 432.59 L224.77 439.70 L225.41 446.71 L226.05 453.63 L226.69 460.47 L227.34 467.21 L227.99 473.87 L228.65 480.44 L229.31 486.93 L229.98 493.33 L230.65 499.65 L231.33 505.89 L232.01 512.05 L232.70 518.13 L233.39 524.13 L234.09 530.05 L234.79 535.90 L235.50 541.67 L236.21 547.37 L236.93 552.99 L237.65 558.55 L238.38 564.04 L239.12 569.45 L239.86 574.81 L240.60 580.09 L241.35 585.31 L242.11 590.47 L242.87 595.57 L243.64 600.60 L244.41 605.58 L245.19 610.49 L245.97 615.35 L246.76 620.15 L247.56 624.90 L248.36 629.59 L249.16 634.22 L249.98 638.81 L250.80 643.34 L251.62 647.82 L252.45 652.25 L253.29 656.63 L254.13 660.97 L254.98 665.25 L255.84 669.49 L256.70 673.68 L257.57 677.83 L258.44 681.93 L259.33 685.99 L260.21 690.01 L261.11 693.98 L262.01 697.91 L262.92 701.80 L263.83 705.66 L264.75 709.47 L265.68 713.24 L266.61 716.98 L267.55 720.67 L268.50 724.34 L269.46 727.96 L270.42 731.55 L271.39 735.10 L272.36 738.62 L273.35 742.11 L274.34 745.56 L275.34 748.98 L276.34 752.37 L277.35 755.72 L278.37 759.05 L279.40 762.34 L280.44 765.60 L281.48 768.83 L282.53 772.04 L283.59 775.21 L284.65 778.35 L285.73 781.47 L286.81 784.55 L287.90 787.61 L288.99 790.64 L290.10 793.64 L291.21 796.61 L292.34 799.56 L293.47 802.48 L294.60 805.37 L295.75 808.24 L296.90 811.07 L298.07 813.89 L299.24 816.67 L300.42 819.44 L301.61 822.17 L302.81 824.88 L304.01 827.57 L305.23 830.23 L306.45 832.87 L307.69 835.48 L308.93 838.07 L310.18 840.64 L311.44 843.18 L312.71 845.70 L313.99 848.19 L315.28 850.66 L316.58 853.12 L317.89 855.54 L319.20 857.95 L320.53 860.33 L321.87 862.69 L323.21 865.04 L324.57 867.35 L325.94 869.65 L327.31 871.93 L328.70 874.19 L330.10 876.42 L331.50 878.64 L332.92 880.83 L334.35 883.01 L335.79 885.17 L337.23 887.30 L338.69 889.42 L340.16 891.52 L341.64 893.60 L343.14 895.66 L344.64 897.70 L346.15 899.72 L347.68 901.73 L349.21 903.71 L350.76 905.68 L352.32 907.63 L353.89 909.56 L355.47 911.48 L357.06 913.38 L358.67 915.26 L360.28 917.13 L361.91 918.97 L363.55 920.80 L365.20 922.62 L366.87 924.42 L368.54 926.20 L370.23 927.97 L371.94 929.72 L373.65 931.45 L375.38 933.17 L377.11 934.87 L378.87 936.56 L380.63 938.24 L382.41 939.89 L384.20 941.54 L386.00 943.17 L387.82 944.78 L389.65 946.38 L391.49 947.97 L393.35 949.54 L395.22 951.09 L397.11 952.64 L399.00 954.17 L400.92 955.68 L402.84 957.19 L404.78 958.68 L406.74 960.15 L408.71 961.61 L410.69 963.06 L412.69 964.50 L414.70 965.93 L416.73 967.34 L418.77 968.74 L420.83 970.12 L422.90 971.50 L424.99 972.86 L427.09 974.21 L429.21 975.55 L431.34 976.88 L433.49 978.19 L435.66 979.49 L437.84 980.79 L440.04 982.07 L442.25 983.33 L444.48 984.59 L446.73 985.84 L448.99 987.07 L451.27 988.30 L453.56 989.51 L455.87 990.72 L458.20 991.91 L460.55 993.09 L462.91 994.26 L465.30 995.43 L467.69 996.58 L470.11 997.72 L472.54 998.85 L475.00 999.97 L477.47 1001.08 L479.95 1002.19 L482.46 1003.28 L484.98 1004.36 L487.53 1005.44 L490.09 1006.50 L492.67 1007.56 L495.27 1008.60 L497.89 1009.64 L500.52 1010.67 L503.18 1011.69 L505.86 1012.70 L508.55 1013.70 L511.27 1014.69 L514.01 1015.67 L516.76 1016.65 L519.54 1017.62 L522.33 1018.58 L525.15 1019.53 L527.99 1020.47 L530.85 1021.40 L533.73 1022.33 L536.63 1023.25 L539.55 1024.16 L542.49 1025.06 L545.46 1025.96 L548.44 1026.85 L551.45 1027.73 L554.48 1028.60 L557.53 1029.46 L560.61 1030.32 L563.71 1031.17 L566.83 1032.01 L569.97 1032.85 L573.14 1033.68 L576.33 1034.50 L579.54 1035.31 L582.78 1036.12 L586.04 1036.92 L589.32 1037.72 L592.63 1038.50 L595.96 1039.28 L599.32 1040.06 L602.70 1040.83 L606.11 1041.59 L609.54 1042.34 L613.00 1043.09 L616.48 1043.83 L619.98 1044.57 L623.52 1045.30 L627.08 1046.02 L630.66 1046.74 L634.27 1047.45 L637.91 1048.15 L641.58 1048.85 L645.27 1049.55 L648.99 1050.23 L652.73 1050.92 L656.51 1051.59 L660.31 1052.26 L664.14 1052.93 L667.99 1053.59 L671.88 1054.24 L675.79 1054.89 L679.74 1055.53 L683.71 1056.17 L687.71 1056.80 L691.74 1057.43 L695.80 1058.05 L699.89 1058.67 L704.01 1059.28 L708.16 1059.89 L712.34 1060.49 L716.55 1061.09 L720.79 1061.68 L725.06 1062.26 L729.36 1062.85 L733.70 1063.42 L738.07 1063.99 L742.47 1064.56 L746.90 1065.13 L751.36 1065.68 L755.86 1066.24 L760.39 1066.79 L764.95 1067.33 L769.55 1067.87 L774.18 1068.41 L778.84 1068.94 L783.54 1069.46 L788.27 1069.99 L793.04 1070.51 L797.85 1071.02 L802.68 1071.53 L807.56 1072.04 L812.47 1072.54 L817.41 1073.03 L822.39 1073.53 L827.41 1074.02 L832.46 1074.50 L837.56 1074.98 L842.69 1075.46 L847.85 1075.94 L853.06 1076.40 L858.30 1076.87 L863.58 1077.33 L868.90 1077.79 L874.26 1078.25 L879.66 1078.70 L885.10 1079.14 L890.57 1079.59 L896.09 1080.03 L901.65 1080.47 L907.25 1080.90 L912.89 1081.33 L918.57 1081.75 L924.30 1082.18 L930.06 1082.60 L935.87 1083.01 L941.72 1083.42 L947.61 1083.83 L953.55 1084.24 L959.53 1084.64 L965.55 1085.04 L971.62 1085.44 L977.73 1085.83 L983.89 1086.22 L990.09 1086.61 L996.34 1086.99 L1002.64 1087.37 L1008.98 1087.75 L1015.36 1088.12 L1021.80 1088.50 L1028.28 1088.87 L1034.80 1089.23 L1041.38 1089.59 L1048.00 1089.95 L1054.68 1090.31 L1061.40 1090.66 L1068.17 1091.02 L1074.99 1091.36 L1081.86 1091.71 L1088.78 1092.05 L1095.75 1092.39 L1102.78 1092.73 L1109.85 1093.07 L1116.98 1093.40 L1124.16 1093.73 L1131.39 1094.06 L1138.67 1094.38 L1146.01 1094.70 L1153.40 1095.02 L1160.85 1095.34 L1168.35 1095.65 L1175.90 1095.96 L1183.52 1096.27 L1191.18 1096.58 L1198.91 1096.89 L1206.69 1097.19 L1214.52 1097.49 L1222.42 1097.78 L1230.37 1098.08 L1238.38 1098.37 L1246.45 1098.66 L1254.58 1098.95 L1262.76 1099.24 L1271.01 1099.52 L1279.32 1099.80 L1287.69 1100.08 L1296.12 1100.36 L1304.61 1100.63 L1313.17 1100.91 L1321.79 1101.18 L1330.47 1101.45 L1339.21 1101.71 L1348.02 1101.98 L1356.90 1102.24 L1365.83 1102.50 L1374.84 1102.76 L1383.91 1103.01 L1393.05 1103.27 L1402.25 1103.52 L1411.52 1103.77 L1420.86 1104.02 L1430.27 1104.27 L1439.74 1104.51 L1449.29 1104.75 L1458.91 1104.99 L1468.59 1105.23 L1478.35 1105.47 L1488.18 1105.71 L1498.08 1105.94 L1508.06 1106.17 L1518.10 1106.40 L1528.23 1106.63 L1538.42 1106.86 L1548.69 1107.08 L1559.04 1107.30 L1569.46 1107.52 L1579.96 1107.74 L1590.53 1107.96 L1601.18 1108.18 L1611.91 1108.39 L1622.72 1108.61 L1633.61 1108.82 L1644.58 1109.03 L1655.63 1109.23 L1666.76 1109.44 L1677.97 1109.64 L1689.26 1109.85 L1700.64 1110.05 L1712.10 1110.25 L1723.64 1110.45 L1735.27 1110.65 L1746.99 1110.84 L1758.79 1111.04 L1770.67 1111.23 L1782.65 1111.42 L1794.71 1111.61 L1806.86 1111.80 L1819.10 1111.98 L1831.43 1112.17 L1843.85 1112.35 L1856.36 1112.54 L1868.96 1112.72 L1881.65 1112.90 L1894.44 1113.08 L1907.32 1113.25 L1920.30 1113.43 L1933.37 1113.60 L1946.54 1113.78 L1959.80 1113.95"/>
<path class="c" stroke="#800080" stroke-dasharray="15.3 15.9" stroke-dashoffset="0" d="M209.39 160.10 L209.90 170.46 L210.42 180.69 L210.95 190.79 L211.47 200.76 L212.00 210.61 L212.54 220.33 L213.08 229.93 L213.62 239.41 L214.16 248.78 L214.71 258.02 L215.27 267.14 L215.83 276.15 L216.39 285.05 L216.95 293.83 L217.52 302.51 L218.10 311.07 L218.68 319.52 L219.26 327.87 L219.85 336.11 L220.44 344.25 L221.03 352.28 L221.63 360.21 L222.24 368.04 L222.85 375.77 L223.46 383.41 L224.08 390.94 L224.70 398.38 L225.32 405.73 L225.96 412.98 L226.59 420.14 L227.23 427.21 L227.88 434.19 L228.52 441.08 L229.18 447.88 L229.84 454.59 L230.50 461.22 L231.17 467.76 L231.84 474.22 L232.52 480.60 L233.20 486.90 L233.89 493.11 L234.59 499.25 L235.28 505.31 L235.99 511.29 L236.70 517.20 L237.41 523.03 L238.13 528.80 L238.85 534.49 L239.58 540.11 L240.31 545.66 L241.05 551.15 L241.80 556.57 L242.55 561.92 L243.30 567.22 L244.07 572.45 L244.83 577.61 L245.61 582.72 L246.38 587.77 L247.17 592.76 L247.96 597.69 L248.75 602.57 L249.55 607.39 L250.36 612.16 L251.17 616.88 L251.99 621.54 L252.81 626.15 L253.64 630.71 L254.48 635.22 L255.32 639.68 L256.17 644.09 L257.03 648.46 L257.89 652.78 L258.75 657.05 L259.63 661.28 L260.51 665.47 L261.39 669.61 L262.28 673.71 L263.18 677.77 L264.09 681.78 L265.00 685.76 L265.92 689.69 L266.84 693.59 L267.78 697.45 L268.71 701.27 L269.66 705.05 L270.61 708.79 L271.57 712.50 L272.54 716.18 L273.51 719.82 L274.49 723.42 L275.48 726.99 L276.47 730.53 L277.48 734.03 L278.48 737.51 L279.50 740.95 L280.52 744.36 L281.56 747.73 L282.59 751.08 L283.64 754.40 L284.69 757.68 L285.76 760.94 L286.82 764.16 L287.90 767.36 L288.99 770.53 L290.08 773.67 L291.18 776.78 L292.29 779.86 L293.40 782.91 L294.53 785.94 L295.66 788.94 L296.80 791.91 L297.95 794.85 L299.11 797.77 L300.27 800.66 L301.45 803.53 L302.63 806.37 L303.82 809.18 L305.02 811.97 L306.23 814.73 L307.45 817.47 L308.68 820.18 L309.91 822.87 L311.15 825.53 L312.41 828.17 L313.67 830.79 L314.94 833.38 L316.22 835.95 L317.51 838.49 L318.81 841.02 L320.12 843.51 L321.44 845.99 L322.77 848.45 L324.10 850.88 L325.45 853.29 L326.81 855.68 L328.17 858.05 L329.55 860.40 L330.94 862.72 L332.33 865.03 L333.74 867.31 L335.16 869.57 L336.58 871.82 L338.02 874.04 L339.47 876.24 L340.93 878.43 L342.40 880.59 L343.88 882.73 L345.37 884.86 L346.87 886.97 L348.38 889.05 L349.90 891.12 L351.44 893.17 L352.98 895.21 L354.54 897.22 L356.11 899.22 L357.69 901.19 L359.28 903.15 L360.88 905.10 L362.49 907.02 L364.12 908.93 L365.76 910.82 L367.40 912.70 L369.07 914.56 L370.74 916.40 L372.42 918.23 L374.12 920.04 L375.83 921.83 L377.55 923.61 L379.29 925.37 L381.03 927.11 L382.79 928.85 L384.57 930.56 L386.35 932.26 L388.15 933.95 L389.96 935.62 L391.79 937.27 L393.62 938.91 L395.48 940.54 L397.34 942.15 L399.22 943.75 L401.11 945.33 L403.02 946.90 L404.93 948.46 L406.87 950.00 L408.81 951.53 L410.78 953.05 L412.75 954.55 L414.74 956.04 L416.75 957.52 L418.76 958.98 L420.80 960.43 L422.85 961.87 L424.91 963.29 L426.99 964.70 L429.08 966.10 L431.19 967.49 L433.31 968.87 L435.45 970.23 L437.60 971.58 L439.77 972.92 L441.96 974.25 L444.16 975.57 L446.38 976.88 L448.61 978.17 L450.86 979.45 L453.13 980.72 L455.41 981.98 L457.71 983.23 L460.03 984.47 L462.36 985.70 L464.71 986.92 L467.07 988.13 L469.46 989.32 L471.86 990.51 L474.28 991.68 L476.71 992.85 L479.17 994.01 L481.64 995.15 L484.13 996.29 L486.63 997.41 L489.16 998.53 L491.70 999.64 L494.26 1000.74 L496.85 1001.82 L499.45 1002.90 L502.06 1003.97 L504.70 1005.03 L507.36 1006.08 L510.03 1007.13 L512.73 1008.16 L515.44 1009.18 L518.18 1010.20 L520.93 1011.21 L523.70 1012.21 L526.50 1013.20 L529.31 1014.18 L532.15 1015.15 L535.00 1016.12 L537.88 1017.07 L540.78 1018.02 L543.69 1018.96 L546.63 1019.90 L549.59 1020.82 L552.58 1021.74 L555.58 1022.65 L558.60 1023.55 L561.65 1024.44 L564.72 1025.33 L567.81 1026.21 L570.93 1027.08 L574.06 1027.94 L577.22 1028.80 L580.40 1029.65 L583.61 1030.49 L586.84 1031.33 L590.09 1032.16 L593.37 1032.98 L596.67 1033.80 L599.99 1034.60 L603.34 1035.40 L606.71 1036.20 L610.10 1036.99 L613.52 1037.77 L616.97 1038.54 L620.44 1039.31 L623.93 1040.07 L627.46 1040.83 L631.00 1041.58 L634.57 1042.32 L638.17 1043.06 L641.80 1043.79 L645.45 1044.52 L649.12 1045.23 L652.83 1045.95 L656.56 1046.65 L660.31 1047.36 L664.10 1048.05 L667.91 1048.74 L671.75 1049.42 L675.62 1050.10 L679.51 1050.78 L683.44 1051.44 L687.39 1052.10 L691.37 1052.76 L695.38 1053.41 L699.42 1054.06 L703.49 1054.70 L707.58 1055.33 L711.71 1055.96 L715.87 1056.59 L720.06 1057.21 L724.27 1057.82 L728.52 1058.43 L732.80 1059.03 L737.11 1059.63 L741.45 1060.23 L745.83 1060.82 L750.23 1061.40 L754.67 1061.98 L759.14 1062.56 L763.64 1063.13 L768.17 1063.70 L772.74 1064.26 L777.34 1064.82 L781.97 1065.37 L786.64 1065.92 L791.34 1066.46 L796.07 1067.00 L800.84 1067.53 L805.64 1068.06 L810.48 1068.59 L815.35 1069.11 L820.26 1069.63 L825.21 1070.14 L830.19 1070.65 L835.20 1071.16 L840.26 1071.66 L845.35 1072.16 L850.47 1072.65 L855.63 1073.14 L860.84 1073.62 L866.07 1074.11 L871.35 1074.58 L876.66 1075.06 L882.02 1075.53 L887.41 1075.99 L892.84 1076.46 L898.31 1076.92 L903.82 1077.37 L909.37 1077.82 L914.96 1078.27 L920.59 1078.71 L926.26 1079.16 L931.98 1079.59 L937.73 1080.03 L943.53 1080.46 L949.36 1080.88 L955.24 1081.31 L961.17 1081.73 L967.13 1082.14 L973.14 1082.56 L979.20 1082.97 L985.29 1083.38 L991.43 1083.78 L997.62 1084.18 L1003.85 1084.58 L1010.12 1084.97 L1016.44 1085.36 L1022.81 1085.75 L1029.22 1086.14 L1035.68 1086.52 L1042.19 1086.90 L1048.74 1087.27 L1055.34 1087.65 L1061.99 1088.02 L1068.69 1088.38 L1075.43 1088.75 L1082.23 1089.11 L1089.07 1089.47 L1095.96 1089.82 L1102.91 1090.18 L1109.90 1090.53 L1116.94 1090.87 L1124.04 1091.22 L1131.18 1091.56 L1138.38 1091.90 L1145.63 1092.24 L1152.94 1092.57 L1160.29 1092.90 L1167.70 1093.23 L1175.17 1093.56 L1182.68 1093.88 L1190.25 1094.20 L1197.88 1094.52 L1205.56 1094.84 L1213.30 1095.15 L1221.09 1095.46 L1228.94 1095.77 L1236.85 1096.08 L1244.82 1096.38 L1252.84 1096.69 L1260.92 1096.99 L1269.06 1097.28 L1277.26 1097.58 L1285.51 1097.87 L1293.83 1098.16 L1302.21 1098.45 L1310.65 1098.73 L1319.15 1099.02 L1327.71 1099.30 L1336.33 1099.58 L1345.02 1099.86 L1353.76 1100.13 L1362.58 1100.40 L1371.45 1100.68 L1380.39 1100.94 L1389.40 1101.21 L1398.47 1101.48 L1407.60 1101.74 L1416.81 1102.00 L1426.08 1102.26 L1435.41 1102.51 L1444.82 1102.77 L1454.29 1103.02 L1463.83 1103.27 L1473.44 1103.52 L1483.12 1103.77 L1492.87 1104.01 L1502.69 1104.26 L1512.58 1104.50 L1522.55 1104.74 L1532.58 1104.98 L1542.69 1105.21 L1552.87 1105.45 L1563.13 1105.68 L1573.46 1105.91 L1583.86 1106.14 L1594.34 1106.37 L1604.90 1106.59 L1615.53 1106.81 L1626.24 1107.04 L1637.03 1107.26 L1647.89 1107.48 L1658.84 1107.69 L1669.86 1107.91 L1680.97 1108.12 L1692.15 1108.33 L1703.42 1108.54 L1714.76 1108.75 L1726.19 1108.96 L1737.70 1109.17 L1749.30 1109.37 L1760.98 1109.57 L1772.74 1109.77 L1784.59 1109.97 L1796.53 1110.17 L1808.55 1110.37 L1820.66 1110.56 L1832.86 1110.76 L1845.14 1110.95 L1857.52 1111.14 L1869.98 1111.33 L1882.54 1111.52 L1895.18 1111.70 L1907.92 1111.89 L1920.75 1112.07 L1933.67 1112.26 L1946.69 1112.44 L1959.80 1112.62"/>
<path class="c" stroke="#800080" stroke-dasharray="3.4 16.1 15.0 16.2" stroke-dashoffset="0" d="M208.20 160.10 L208.71 170.56 L209.23 180.89 L209.74 191.09 L210.26 201.15 L210.79 211.10 L211.32 220.91 L211.85 230.60 L212.38 240.17 L212.92 249.62 L213.47 258.95 L214.02 268.16 L214.57 277.25 L215.12 286.22 L215.68 295.09 L216.25 303.84 L216.82 312.48 L217.39 321.01 L217.96 329.43 L218.54 337.74 L219.13 345.95 L219.72 354.05 L220.31 362.05 L220.91 369.95 L221.51 377.75 L222.12 385.44 L222.73 393.04 L223.34 400.54 L223.96 407.95 L224.59 415.26 L225.22 422.48 L225.85 429.61 L226.49 436.64 L227.13 443.58 L227.78 450.44 L228.43 457.21 L229.09 463.89 L229.75 470.48 L230.42 476.99 L231.09 483.42 L231.76 489.76 L232.44 496.03 L233.13 502.21 L233.82 508.31 L234.52 514.34 L235.22 520.28 L235.93 526.16 L236.64 531.95 L237.35 537.68 L238.08 543.34 L238.80 548.92 L239.53 554.44 L240.27 559.89 L241.02 565.27 L241.76 570.59 L242.52 575.84 L243.28 581.03 L244.04 586.16 L244.81 591.23 L245.59 596.24 L246.37 601.19 L247.16 606.08 L247.95 610.92 L248.75 615.70 L249.56 620.43 L250.37 625.11 L251.18 629.73 L252.01 634.30 L252.84 638.82 L253.67 643.29 L254.51 647.71 L255.36 652.08 L256.21 656.41 L257.07 660.68 L257.94 664.92 L258.81 669.10 L259.69 673.25 L260.57 677.35 L261.46 681.41 L262.36 685.42 L263.26 689.40 L264.17 693.33 L265.09 697.22 L266.01 701.08 L266.95 704.90 L267.88 708.67 L268.83 712.41 L269.78 716.12 L270.74 719.79 L271.70 723.42 L272.67 727.02 L273.65 730.58 L274.64 734.11 L275.63 737.60 L276.63 741.07 L277.64 744.50 L278.66 747.90 L279.68 751.27 L280.71 754.60 L281.75 757.91 L282.79 761.18 L283.85 764.43 L284.91 767.65 L285.98 770.83 L287.05 773.99 L288.14 777.12 L289.23 780.22 L290.33 783.29 L291.44 786.33 L292.55 789.35 L293.68 792.34 L294.81 795.30 L295.95 798.23 L297.10 801.14 L298.26 804.02 L299.42 806.87 L300.60 809.70 L301.78 812.50 L302.97 815.27 L304.17 818.03 L305.38 820.75 L306.60 823.45 L307.82 826.13 L309.06 828.78 L310.30 831.41 L311.56 834.01 L312.82 836.59 L314.09 839.15 L315.37 841.68 L316.66 844.20 L317.96 846.68 L319.27 849.15 L320.59 851.59 L321.92 854.01 L323.26 856.41 L324.61 858.79 L325.96 861.15 L327.33 863.48 L328.71 865.79 L330.10 868.09 L331.49 870.36 L332.90 872.61 L334.32 874.84 L335.75 877.05 L337.19 879.24 L338.64 881.41 L340.10 883.57 L341.57 885.70 L343.05 887.81 L344.54 889.91 L346.04 891.98 L347.56 894.04 L349.08 896.08 L350.62 898.10 L352.17 900.10 L353.72 902.08 L355.29 904.05 L356.88 906.00 L358.47 907.93 L360.07 909.84 L361.69 911.74 L363.32 913.62 L364.96 915.48 L366.61 917.33 L368.27 919.16 L369.95 920.97 L371.64 922.77 L373.34 924.55 L375.05 926.32 L376.78 928.07 L378.51 929.80 L380.26 931.52 L382.03 933.23 L383.80 934.91 L385.59 936.59 L387.40 938.25 L389.21 939.89 L391.04 941.52 L392.88 943.13 L394.74 944.73 L396.61 946.32 L398.49 947.89 L400.38 949.45 L402.29 951.00 L404.22 952.53 L406.16 954.04 L408.11 955.55 L410.07 957.04 L412.05 958.52 L414.05 959.98 L416.06 961.43 L418.08 962.87 L420.12 964.30 L422.18 965.71 L424.24 967.11 L426.33 968.50 L428.43 969.88 L430.54 971.24 L432.67 972.60 L434.82 973.94 L436.98 975.27 L439.15 976.58 L441.35 977.89 L443.56 979.18 L445.78 980.47 L448.02 981.74 L450.28 983.00 L452.55 984.25 L454.84 985.49 L457.15 986.71 L459.47 987.93 L461.81 989.14 L464.17 990.33 L466.55 991.52 L468.94 992.70 L471.35 993.86 L473.77 995.02 L476.22 996.16 L478.68 997.30 L481.16 998.42 L483.66 999.54 L486.18 1000.64 L488.71 1001.74 L491.27 1002.83 L493.84 1003.90 L496.43 1004.97 L499.04 1006.03 L501.67 1007.08 L504.32 1008.12 L506.98 1009.16 L509.67 1010.18 L512.38 1011.19 L515.10 1012.20 L517.85 1013.20 L520.62 1014.18 L523.40 1015.16 L526.21 1016.14 L529.04 1017.10 L531.88 1018.05 L534.75 1019.00 L537.64 1019.94 L540.55 1020.87 L543.48 1021.79 L546.44 1022.71 L549.41 1023.62 L552.41 1024.52 L555.42 1025.41 L558.46 1026.29 L561.53 1027.17 L564.61 1028.04 L567.72 1028.90 L570.85 1029.76 L574.00 1030.60 L577.17 1031.44 L580.37 1032.28 L583.59 1033.10 L586.84 1033.92 L590.11 1034.74 L593.40 1035.54 L596.72 1036.34 L600.06 1037.13 L603.42 1037.92 L606.81 1038.70 L610.23 1039.47 L613.67 1040.24 L617.13 1041.00 L620.62 1041.75 L624.14 1042.50 L627.68 1043.24 L631.24 1043.97 L634.83 1044.70 L638.45 1045.42 L642.10 1046.14 L645.77 1046.85 L649.47 1047.55 L653.19 1048.25 L656.95 1048.94 L660.73 1049.63 L664.53 1050.31 L668.37 1050.99 L672.23 1051.66 L676.12 1052.32 L680.04 1052.98 L683.99 1053.63 L687.97 1054.28 L691.97 1054.92 L696.01 1055.56 L700.07 1056.19 L704.16 1056.82 L708.29 1057.44 L712.44 1058.06 L716.63 1058.67 L720.84 1059.28 L725.09 1059.88 L729.36 1060.48 L733.67 1061.07 L738.01 1061.65 L742.38 1062.24 L746.78 1062.81 L751.22 1063.39 L755.68 1063.95 L760.18 1064.52 L764.71 1065.08 L769.28 1065.63 L773.88 1066.18 L778.51 1066.72 L783.18 1067.26 L787.88 1067.80 L792.61 1068.33 L797.38 1068.86 L802.18 1069.38 L807.02 1069.90 L811.89 1070.42 L816.80 1070.93 L821.75 1071.43 L826.73 1071.94 L831.74 1072.43 L836.80 1072.93 L841.89 1073.42 L847.02 1073.91 L852.18 1074.39 L857.38 1074.87 L862.62 1075.34 L867.90 1075.81 L873.22 1076.28 L878.57 1076.74 L883.97 1077.20 L889.40 1077.66 L894.88 1078.11 L900.39 1078.56 L905.95 1079.00 L911.54 1079.44 L917.17 1079.88 L922.85 1080.32 L928.57 1080.75 L934.33 1081.17 L940.13 1081.60 L945.97 1082.02 L951.86 1082.44 L957.79 1082.85 L963.76 1083.26 L969.78 1083.67 L975.83 1084.07 L981.94 1084.47 L988.09 1084.87 L994.28 1085.26 L1000.52 1085.66 L1006.80 1086.04 L1013.13 1086.43 L1019.51 1086.81 L1025.93 1087.19 L1032.40 1087.57 L1038.91 1087.94 L1045.48 1088.31 L1052.09 1088.68 L1058.75 1089.04 L1065.45 1089.40 L1072.21 1089.76 L1079.02 1090.12 L1085.87 1090.47 L1092.78 1090.82 L1099.73 1091.17 L1106.74 1091.51 L1113.80 1091.85 L1120.91 1092.19 L1128.07 1092.53 L1135.28 1092.86 L1142.55 1093.20 L1149.87 1093.52 L1157.24 1093.85 L1164.66 1094.17 L1172.14 1094.49 L1179.68 1094.81 L1187.27 1095.13 L1194.91 1095.44 L1202.61 1095.75 L1210.37 1096.06 L1218.18 1096.37 L1226.05 1096.67 L1233.98 1096.97 L1241.96 1097.27 L1250.01 1097.57 L1258.11 1097.87 L1266.27 1098.16 L1274.49 1098.45 L1282.77 1098.73 L1291.11 1099.02 L1299.51 1099.30 L1307.97 1099.58 L1316.50 1099.86 L1325.08 1100.14 L1333.73 1100.42 L1342.44 1100.69 L1351.22 1100.96 L1360.06 1101.23 L1368.96 1101.49 L1377.93 1101.76 L1386.97 1102.02 L1396.07 1102.28 L1405.23 1102.54 L1414.46 1102.79 L1423.77 1103.05 L1433.13 1103.30 L1442.57 1103.55 L1452.07 1103.80 L1461.65 1104.04 L1471.29 1104.29 L1481.01 1104.53 L1490.79 1104.77 L1500.65 1105.01 L1510.58 1105.25 L1520.58 1105.48 L1530.65 1105.72 L1540.80 1105.95 L1551.02 1106.18 L1561.32 1106.41 L1571.69 1106.63 L1582.13 1106.86 L1592.65 1107.08 L1603.25 1107.30 L1613.93 1107.52 L1624.68 1107.74 L1635.52 1107.96 L1646.43 1108.17 L1657.42 1108.38 L1668.49 1108.59 L1679.64 1108.80 L1690.87 1109.01 L1702.19 1109.22 L1713.58 1109.42 L1725.06 1109.63 L1736.63 1109.83 L1748.28 1110.03 L1760.01 1110.23 L1771.83 1110.43 L1783.73 1110.62 L1795.72 1110.82 L1807.80 1111.01 L1819.97 1111.20 L1832.22 1111.39 L1844.57 1111.58 L1857.00 1111.77 L1869.53 1111.95 L1882.15 1112.14 L1894.85 1112.32 L1907.66 1112.50 L1920.55 1112.68 L1933.54 1112.86 L1946.62 1113.04 L1959.80 1113.21"/>
</g>
<g stroke="#9c9c9c" stroke-width="1.2" fill="none">
<line x1="100" y1="1136.90" x2="1997" y2="1136.90"/>
<line x1="138.30" y1="159.4" x2="138.30" y2="1332.8"/>
</g>
<g stroke="#4a4a4a" stroke-width="1.2" fill="none">
<line x1="138.30" y1="1136.90" x2="138.30" y2="1125.10"/>
<line x1="211.16" y1="1136.90" x2="211.16" y2="1130.10"/>
<line x1="284.02" y1="1136.90" x2="284.02" y2="1130.10"/>
<line x1="356.88" y1="1136.90" x2="356.88" y2="1130.10"/>
<line x1="429.74" y1="1136.90" x2="429.74" y2="1130.10"/>
<line x1="502.60" y1="1136.90" x2="502.60" y2="1125.10"/>
<line x1="575.46" y1="1136.90" x2="575.46" y2="1130.10"/>
<line x1="648.32" y1="1136.90" x2="648.32" y2="1130.10"/>
<line x1="721.18" y1="1136.90" x2="721.18" y2="1130.10"/>
<line x1="794.04" y1="1136.90" x2="794.04" y2="1130.10"/>
<line x1="866.90" y1="1136.90" x2="866.90" y2="1125.10"/>
<line x1="939.76" y1="1136.90" x2="939.76" y2="1130.10"/>
<line x1="1012.62" y1="1136.90" x2="1012.62" y2="1130.10"/>
<line x1="1085.48" y1="1136.90" x2="1085.48" y2="1130.10"/>
<line x1="1158.34" y1="1136.90" x2="1158.34" y2="1130.10"/>
<line x1="1231.20" y1="1136.90" x2="1231.20" y2="1125.10"/>
<line x1="1304.06" y1="1136.90" x2="1304.06" y2="1130.10"/>
<line x1="1376.92" y1="1136.90" x2="1376.92" y2="1130.10"/>
<line x1="1449.78" y1="1136.90" x2="1449.78" y2="1130.10"/>
<line x1="1522.64" y1="1136.90" x2="1522.64" y2="1130.10"/>
<line x1="1595.50" y1="1136.90" x2="1595.50" y2="1125.10"/>
<line x1="1668.36" y1="1136.90" x2="1668.36" y2="1130.10"/>
<line x1="1741.22" y1="1136.90" x2="1741.22" y2="1130.10"/>
<line x1="1814.08" y1="1136.90" x2="1814.08" y2="1130.10"/>
<line x1="1886.94" y1="1136.90" x2="1886.94" y2="1130.10"/>
<line x1="1959.80" y1="1136.90" x2="1959.80" y2="1125.10"/>
<line x1="138.30" y1="1332.26" x2="150.10" y2="1332.26"/>
<line x1="138.30" y1="1283.42" x2="145.50" y2="1283.42"/>
<line x1="138.30" y1="1234.58" x2="145.50" y2="1234.58"/>
<line x1="138.30" y1="1185.74" x2="145.50" y2="1185.74"/>
<line x1="138.30" y1="1136.90" x2="150.10" y2="1136.90"/>
<line x1="138.30" y1="1088.06" x2="145.50" y2="1088.06"/>
<line x1="138.30" y1="1039.22" x2="145.50" y2="1039.22"/>
<line x1="138.30" y1="990.38" x2="145.50" y2="990.38"/>
<line x1="138.30" y1="941.54" x2="150.10" y2="941.54"/>
<line x1="138.30" y1="892.70" x2="145.50" y2="892.70"/>
<line x1="138.30" y1="843.86" x2="145.50" y2="843.86"/>
<line x1="138.30" y1="795.02" x2="145.50" y2="795.02"/>
<line x1="138.30" y1="746.18" x2="150.10" y2="746.18"/>
<line x1="138.30" y1="697.34" x2="145.50" y2="697.34"/>
<line x1="138.30" y1="648.50" x2="145.50" y2="648.50"/>
<line x1="138.30" y1="599.66" x2="145.50" y2="599.66"/>
<line x1="138.30" y1="550.82" x2="150.10" y2="550.82"/>
<line x1="138.30" y1="501.98" x2="145.50" y2="501.98"/>
<line x1="138.30" y1="453.14" x2="145.50" y2="453.14"/>
<line x1="138.30" y1="404.30" x2="145.50" y2="404.30"/>
<line x1="138.30" y1="355.46" x2="150.10" y2="355.46"/>
<line x1="138.30" y1="306.62" x2="145.50" y2="306.62"/>
<line x1="138.30" y1="257.78" x2="145.50" y2="257.78"/>
<line x1="138.30" y1="208.94" x2="145.50" y2="208.94"/>
<line x1="138.30" y1="160.10" x2="150.10" y2="160.10"/>
</g>
<g opacity="0.31">
<path d="M1275.8 1003.8 C1242 1005 1217 1001.5 1187 996.5 C1167 993.2 1152 991.6 1142 993.6 C1124 997.5 1110 1016 1104.5 1034" fill="none" stroke="#000" stroke-width="3.1"/>
<path d="M1099.6 1045 L1099.4 1012.3 L1108.4 1022 L1117.4 1017.6 Z" fill="#000"/>
</g>

<g font-size="84.4">
<text x="4.64" y="186.00" textLength="123.06" lengthAdjust="spacingAndGlyphs">100</text>
<text x="45.66" y="381.36" textLength="82.04" lengthAdjust="spacingAndGlyphs">80</text>
<text x="45.66" y="576.72" textLength="82.04" lengthAdjust="spacingAndGlyphs">60</text>
<text x="45.66" y="772.08" textLength="82.04" lengthAdjust="spacingAndGlyphs">40</text>
<text x="45.66" y="967.44" textLength="82.04" lengthAdjust="spacingAndGlyphs">20</text>
<text x="-9.70" y="1358.16" textLength="137.40" lengthAdjust="spacingAndGlyphs">−20</text>
<text x="463.08" y="1221.20" textLength="82.04" lengthAdjust="spacingAndGlyphs">10</text>
<text x="827.38" y="1221.20" textLength="82.04" lengthAdjust="spacingAndGlyphs">20</text>
<text x="1191.68" y="1221.20" textLength="82.04" lengthAdjust="spacingAndGlyphs">30</text>
<text x="1555.98" y="1221.20" textLength="82.04" lengthAdjust="spacingAndGlyphs">40</text>
<text x="1920.28" y="1221.20" textLength="82.04" lengthAdjust="spacingAndGlyphs">50</text>
</g>
<text transform="scale(1.1302 1)"><tspan x="9.90" y="73.25" font-size="92.34" font-style="italic">α</tspan><tspan x="67.11" y="74.66" font-size="109.18" font-style="normal" textLength="26.50" lengthAdjust="spacingAndGlyphs" stroke="#fff" stroke-width="2.20">(</tspan><tspan x="95.67" y="73.24" font-size="98.35" font-style="italic" textLength="35.49" lengthAdjust="spacingAndGlyphs">b</tspan><tspan x="130.78" y="74.66" font-size="109.18" font-style="normal" textLength="26.50" lengthAdjust="spacingAndGlyphs" stroke="#fff" stroke-width="2.20">)</tspan><tspan x="165.45" y="74.17" font-size="111.36" font-style="normal" textLength="16.34" lengthAdjust="spacingAndGlyphs">,</tspan> <tspan x="202.66" y="81.56" font-size="118.41" font-style="normal" textLength="18.53" lengthAdjust="spacingAndGlyphs" stroke="#fff" stroke-width="1.20">[</tspan><tspan x="221.09" y="73.19" font-size="98.28" font-style="italic" textLength="42.82" lengthAdjust="spacingAndGlyphs">d</tspan><tspan x="265.93" y="73.30" font-size="92.52" font-style="italic" textLength="36.50" lengthAdjust="spacingAndGlyphs">e</tspan><tspan x="304.96" y="73.29" font-size="92.60" font-style="italic" textLength="41.40" lengthAdjust="spacingAndGlyphs">g</tspan><tspan x="345.74" y="81.56" font-size="118.41" font-style="normal" textLength="18.39" lengthAdjust="spacingAndGlyphs" stroke="#fff" stroke-width="1.20">]</tspan></text>
<text transform="scale(1.0321 1)"><tspan x="907.99" y="1348.85" font-size="97.78" font-style="italic" textLength="39.64" lengthAdjust="spacingAndGlyphs">b</tspan><tspan x="951.71" y="1350.15" font-size="112.13" font-style="normal" textLength="18.54" lengthAdjust="spacingAndGlyphs">,</tspan> <tspan x="992.77" y="1357.07" font-size="118.29" font-style="normal" textLength="19.71" lengthAdjust="spacingAndGlyphs" stroke="#fff" stroke-width="1.20">[</tspan><tspan x="1017.94" y="1349.30" font-size="102.48" font-style="italic">M</tspan><tspan x="1110.58" y="1357.07" font-size="118.29" font-style="normal" textLength="19.13" lengthAdjust="spacingAndGlyphs" stroke="#fff" stroke-width="1.20">]</tspan></text>
<text font-size="65.5" x="508.06 533.51" y="768.28 796.23" rotate="60.00 48.00">PW<tspan font-size="47" x="573.12" y="848.38" rotate="29.00">1</tspan></text>
<text font-size="65.5" x="362.37 388.21" y="878.28 907.24" rotate="59.60 41.00">PW<tspan font-size="47" x="434.93" y="951.57" rotate="27.00">3</tspan></text>
<text font-size="65.5" x="237.03 251.16" y="951.73 989.69" rotate="84.00 64.40">PW<tspan font-size="47" x="272.40" y="1049.30" rotate="50.00">2</tspan></text>
<text font-size="58" x="1275.20 1309.20 1355.61 1395.90 1409.85 1423.81 1457.93 1504.49 1532.45" y="1023.40 1026.99 1031.36 1034.67 1035.71 1036.69 1038.87 1041.31 1042.49" rotate="6.03 5.38 4.69 4.26 4.03 3.65 3.01 2.41 1.87">EMD, EMaD</text>
</svg></body></html>
